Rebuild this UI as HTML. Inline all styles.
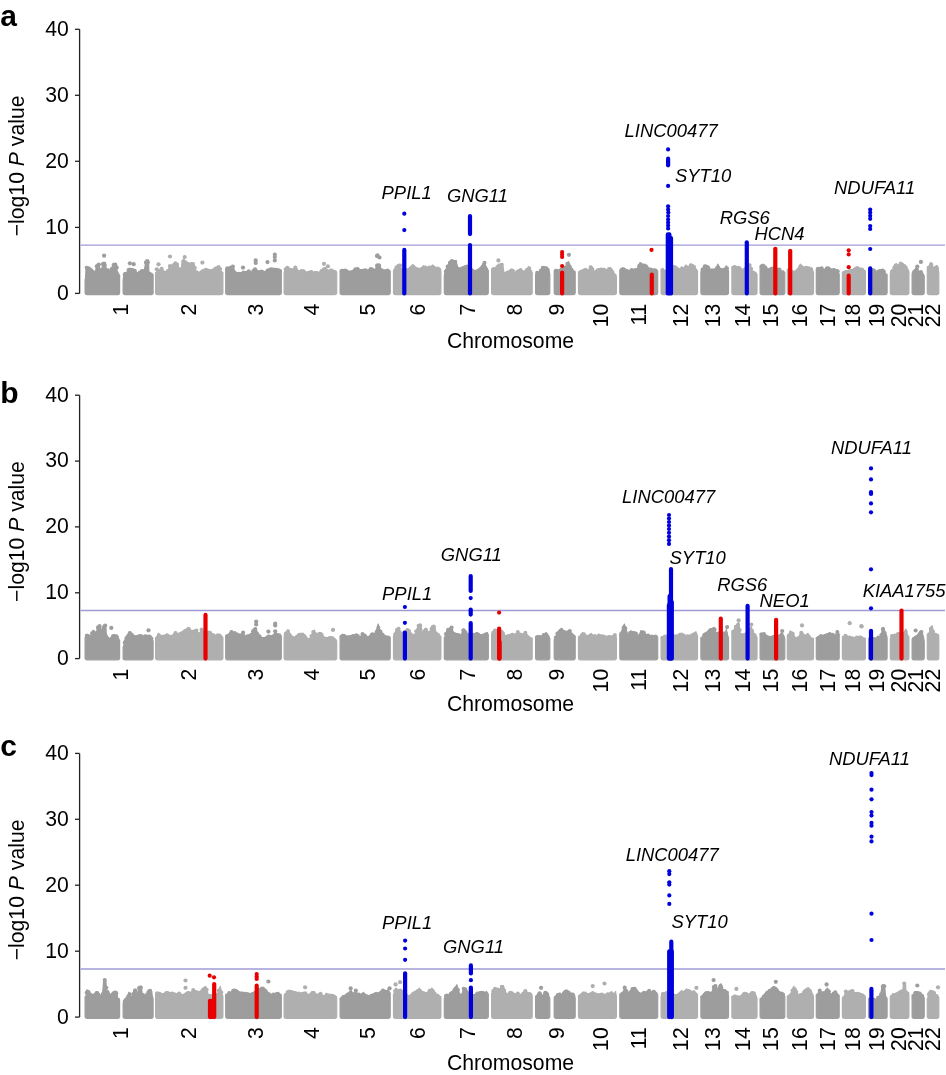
<!DOCTYPE html>
<html><head><meta charset="utf-8"><style>
html,body{margin:0;padding:0;background:#fff;}
svg{display:block;will-change:transform;font-family:"Liberation Sans",sans-serif;}
</style></head><body>
<svg width="946" height="1075" viewBox="0 0 946 1075">
<rect width="946" height="1075" fill="#fff"/>
<text x="0.3" y="25.5" font-size="30" font-weight="bold">a</text>
<path d="M79.6 29.3V293.4" stroke="#222" stroke-width="1.3" fill="none"/>
<path d="M75 293.4H79.6" stroke="#222" stroke-width="1.3"/>
<text x="68.8" y="299.8" font-size="21.2" text-anchor="end">0</text>
<path d="M75 227.4H79.6" stroke="#222" stroke-width="1.3"/>
<text x="68.8" y="233.8" font-size="21.2" text-anchor="end">10</text>
<path d="M75 161.3H79.6" stroke="#222" stroke-width="1.3"/>
<text x="68.8" y="167.8" font-size="21.2" text-anchor="end">20</text>
<path d="M75 95.3H79.6" stroke="#222" stroke-width="1.3"/>
<text x="68.8" y="101.7" font-size="21.2" text-anchor="end">30</text>
<path d="M75 29.3H79.6" stroke="#222" stroke-width="1.3"/>
<text x="68.8" y="35.7" font-size="21.2" text-anchor="end">40</text>
<text transform="translate(23.9 165.9) rotate(-90)" font-size="21.2" text-anchor="middle">−log10 <tspan font-style="italic">P</tspan> value</text>
<path d="M80.5 245.2H945" stroke="#9f9bd8" stroke-width="1.3"/>
<path d="M87.1 294.6Q85.1 294.6 85.1 292.6L85.1 279.3L85.5 279.3L86.1 266.7L89.3 267.1L92.7 271.7L95.2 272.6L96.1 268.3L96.9 264.1L99 264.1L99.9 269.2L102 268.3L102.8 262.4L105.4 262.4L106.2 268.8L108.3 270L109.2 272.6L111.3 269.2L113.4 263.3L116.4 263.3L117.2 270.9L118.9 274.3L119.6 275.1L119.6 275.1L119.6 292.6Q119.6 294.6 117.6 294.6Z" fill="#9d9d9d" stroke="#9d9d9d" stroke-width="1.2" stroke-linejoin="round"/>
<path d="M125.1 294.6Q123.1 294.6 123.1 292.6L123.1 280.2L123.1 280.2L124.4 272.6L127.4 272.6L128.6 268.3L130.7 268.3L132.4 269.2L135.8 269.6L136.7 273.4L139.2 271.7L141.7 270.5L144.3 270.9L146 259.9L148.5 259.9L148.9 271.7L151.5 273.4L152.9 275.1L153.1 275.1L153.1 292.6Q153.1 294.6 151.1 294.6Z" fill="#9d9d9d" stroke="#9d9d9d" stroke-width="1.2" stroke-linejoin="round"/>
<g fill="#9d9d9d"><circle cx="86.7" cy="267.7" r="2"/><circle cx="88.3" cy="268.7" r="2"/><circle cx="89.7" cy="269.1" r="2"/><circle cx="91.5" cy="270.4" r="2"/><circle cx="93.4" cy="272.3" r="2"/><circle cx="95.2" cy="272.9" r="2"/><circle cx="96.7" cy="266.3" r="2"/><circle cx="98.9" cy="264.6" r="2"/><circle cx="100.6" cy="270.6" r="2"/><circle cx="102.9" cy="264" r="2"/><circle cx="104.7" cy="265" r="2"/><circle cx="106.2" cy="270.6" r="2"/><circle cx="107.9" cy="270.3" r="2"/><circle cx="109.4" cy="273.2" r="2"/><circle cx="111.6" cy="269" r="2"/><circle cx="113.6" cy="265" r="2"/><circle cx="115.3" cy="264.8" r="2"/><circle cx="116.8" cy="267.6" r="2"/><circle cx="124.7" cy="274.4" r="2"/><circle cx="126.5" cy="273.5" r="2"/><circle cx="128.5" cy="270" r="2"/><circle cx="130.2" cy="270.4" r="2"/><circle cx="132.3" cy="269.9" r="2"/><circle cx="134.3" cy="270.9" r="2"/><circle cx="136.6" cy="274.9" r="2"/><circle cx="138.2" cy="274.9" r="2"/><circle cx="139.8" cy="272.6" r="2"/><circle cx="141.9" cy="271.1" r="2"/><circle cx="143.8" cy="271.1" r="2"/><circle cx="145.9" cy="262.4" r="2"/><circle cx="147.9" cy="262.2" r="2"/><circle cx="149.6" cy="274" r="2"/><circle cx="151.6" cy="275.1" r="2"/></g>
<path d="M157.6 294.6Q155.6 294.6 155.6 292.6L155.6 272.6L155.6 272.6L157.6 270.9L160.1 269.2L161.8 268.3L163.5 270.9L166.1 271.7L168.6 269.2L172 267.5L174.5 262.4L177.1 263.3L178.8 268.3L181.3 269.2L182.1 260.7L183.8 259L186.4 262.4L189.7 263.3L193.1 263.3L194.8 265.8L195.7 271.7L199 272.6L202.4 270L205.8 268.3L208.4 269.2L212.6 270.9L216 267.5L219.3 266.7L221 270.9L222.9 272.6L222.9 272.6L222.9 292.6Q222.9 294.6 220.9 294.6Z" fill="#afafaf" stroke="#afafaf" stroke-width="1.2" stroke-linejoin="round"/>
<g fill="#afafaf"><circle cx="157.2" cy="273.4" r="2"/><circle cx="159.5" cy="270.9" r="2"/><circle cx="161.6" cy="268.8" r="2"/><circle cx="163.7" cy="272.7" r="2"/><circle cx="166.1" cy="273.9" r="2"/><circle cx="167.8" cy="271.1" r="2"/><circle cx="169.9" cy="268.8" r="2"/><circle cx="171.7" cy="268.2" r="2"/><circle cx="173.2" cy="265.3" r="2"/><circle cx="175.4" cy="263.2" r="2"/><circle cx="177.1" cy="264.4" r="2"/><circle cx="179.3" cy="268.9" r="2"/><circle cx="181.2" cy="270.7" r="2"/><circle cx="183.5" cy="261.6" r="2"/><circle cx="185.7" cy="262.4" r="2"/><circle cx="187.5" cy="263.8" r="2"/><circle cx="189.8" cy="265.8" r="2"/><circle cx="191.4" cy="263.9" r="2"/><circle cx="193" cy="264" r="2"/><circle cx="194.9" cy="267.9" r="2"/><circle cx="196.5" cy="272.2" r="2"/><circle cx="198.4" cy="273.5" r="2"/><circle cx="200.3" cy="274.1" r="2"/><circle cx="202.4" cy="271.5" r="2"/><circle cx="204.4" cy="270.9" r="2"/><circle cx="205.9" cy="270.7" r="2"/><circle cx="208.1" cy="271.4" r="2"/><circle cx="210.3" cy="271.1" r="2"/><circle cx="212.1" cy="271.1" r="2"/><circle cx="214.1" cy="269.7" r="2"/><circle cx="215.6" cy="268.6" r="2"/><circle cx="217.1" cy="268.2" r="2"/><circle cx="218.6" cy="267" r="2"/><circle cx="220.1" cy="269.1" r="2"/></g>
<path d="M227.7 294.6Q225.7 294.6 225.7 292.6L225.7 269.2L225.8 269.2L227.8 267.5L231.2 266.7L232.9 265.5L234.6 270.9L237.9 273.4L242.2 272.6L246.4 271.7L248.9 270L251.5 272.6L254 269.2L255.7 268.3L258.2 271.7L261.6 270L265 271.7L268.4 269.2L271.8 268.8L275.2 268.3L278.5 268.8L281.1 270L281.3 270L281.3 292.6Q281.3 294.6 279.3 294.6Z" fill="#9d9d9d" stroke="#9d9d9d" stroke-width="1.2" stroke-linejoin="round"/>
<g fill="#9d9d9d"><circle cx="227.3" cy="268.2" r="2"/><circle cx="229.6" cy="268.7" r="2"/><circle cx="231.1" cy="267.5" r="2"/><circle cx="232.9" cy="266.5" r="2"/><circle cx="234.4" cy="272.6" r="2"/><circle cx="236.8" cy="273.9" r="2"/><circle cx="238.7" cy="273.7" r="2"/><circle cx="240.2" cy="274" r="2"/><circle cx="241.8" cy="274.8" r="2"/><circle cx="243.4" cy="272.6" r="2"/><circle cx="245.7" cy="273.3" r="2"/><circle cx="247.3" cy="272.6" r="2"/><circle cx="248.7" cy="271.6" r="2"/><circle cx="251.1" cy="274.5" r="2"/><circle cx="253.2" cy="271.1" r="2"/><circle cx="255" cy="269.3" r="2"/><circle cx="257.1" cy="271.7" r="2"/><circle cx="259.3" cy="272.2" r="2"/><circle cx="260.9" cy="272.5" r="2"/><circle cx="263.3" cy="273.1" r="2"/><circle cx="265.5" cy="273.5" r="2"/><circle cx="267.7" cy="270.5" r="2"/><circle cx="269.6" cy="270.1" r="2"/><circle cx="271" cy="269.2" r="2"/><circle cx="272.7" cy="269.5" r="2"/><circle cx="274.8" cy="270.9" r="2"/><circle cx="276.6" cy="271" r="2"/><circle cx="279" cy="271.6" r="2"/></g>
<path d="M286.1 294.6Q284.1 294.6 284.1 292.6L284.1 272.6L284.1 272.6L286.5 266.7L289.9 268.3L293.2 269.2L295.8 266.7L298.3 270.9L300 270.9L303.4 270L306.8 272.6L310.1 270.9L313.5 272.6L316.9 271.7L320.3 272.6L322.8 268.3L325.4 267.5L327.9 270.9L330.4 269.2L333.8 270.9L336.4 271.7L336.7 272.6L336.7 272.6L336.7 292.6Q336.7 294.6 334.7 294.6Z" fill="#afafaf" stroke="#afafaf" stroke-width="1.2" stroke-linejoin="round"/>
<g fill="#afafaf"><circle cx="285.7" cy="269.3" r="2"/><circle cx="287.3" cy="267.8" r="2"/><circle cx="288.9" cy="269.6" r="2"/><circle cx="291.2" cy="270.9" r="2"/><circle cx="293.1" cy="270.9" r="2"/><circle cx="295.3" cy="267.5" r="2"/><circle cx="297.4" cy="271.7" r="2"/><circle cx="299.6" cy="272.9" r="2"/><circle cx="301.4" cy="271.1" r="2"/><circle cx="303.6" cy="271.2" r="2"/><circle cx="305.8" cy="274.4" r="2"/><circle cx="307.6" cy="273.3" r="2"/><circle cx="310" cy="272.9" r="2"/><circle cx="311.5" cy="272.1" r="2"/><circle cx="313.1" cy="274.7" r="2"/><circle cx="315.3" cy="272.7" r="2"/><circle cx="317.5" cy="274.4" r="2"/><circle cx="319.6" cy="273.4" r="2"/><circle cx="321.5" cy="271" r="2"/><circle cx="322.9" cy="270.8" r="2"/><circle cx="325" cy="269.1" r="2"/><circle cx="327.3" cy="271.3" r="2"/><circle cx="329.6" cy="271.9" r="2"/><circle cx="331.2" cy="270.4" r="2"/><circle cx="332.9" cy="271.2" r="2"/><circle cx="334.9" cy="272.1" r="2"/></g>
<path d="M342.1 294.6Q340.1 294.6 340.1 292.6L340.1 270.9L340.1 270.9L342.3 270L345.7 269.2L349 271.7L352.4 270.9L355 269.2L357.5 268.3L360.9 270L364.3 269.2L367.7 270.9L370.2 267.5L372.7 268.3L375.3 270L377 264.1L379.5 264.1L381.2 269.2L384.6 270L387.9 269.2L390.2 270.9L390.2 270.9L390.2 292.6Q390.2 294.6 388.2 294.6Z" fill="#9d9d9d" stroke="#9d9d9d" stroke-width="1.2" stroke-linejoin="round"/>
<g fill="#9d9d9d"><circle cx="341.7" cy="270.8" r="2"/><circle cx="344" cy="270.7" r="2"/><circle cx="345.9" cy="270.9" r="2"/><circle cx="348.2" cy="272.3" r="2"/><circle cx="350.5" cy="272.8" r="2"/><circle cx="352.4" cy="272.3" r="2"/><circle cx="353.8" cy="271.2" r="2"/><circle cx="355.4" cy="269.2" r="2"/><circle cx="357.6" cy="269" r="2"/><circle cx="359.5" cy="271.3" r="2"/><circle cx="361.5" cy="270.9" r="2"/><circle cx="363.4" cy="270.9" r="2"/><circle cx="365.6" cy="270.3" r="2"/><circle cx="367.5" cy="271.6" r="2"/><circle cx="369.2" cy="270.9" r="2"/><circle cx="371.1" cy="269.3" r="2"/><circle cx="373.3" cy="271.1" r="2"/><circle cx="375.1" cy="271.6" r="2"/><circle cx="377" cy="265.5" r="2"/><circle cx="379.1" cy="265.4" r="2"/><circle cx="381" cy="270.1" r="2"/><circle cx="383.4" cy="271.6" r="2"/><circle cx="385.7" cy="272.2" r="2"/><circle cx="387.3" cy="270.9" r="2"/></g>
<path d="M395.5 294.6Q393.5 294.6 393.5 292.6L393.5 270.9L393.5 270.9L395.6 267.5L398.1 265.8L399.8 264.1L401.5 269.2L406.6 269.2L409.9 268.3L411.6 265.8L413.3 265L416.7 268.3L420.1 269.2L423.5 265.8L426.8 268.3L430.2 266.7L432.8 265L435.3 269.2L437.8 267.5L440.4 269.2L440.9 272.6L440.9 272.6L440.9 292.6Q440.9 294.6 438.9 294.6Z" fill="#afafaf" stroke="#afafaf" stroke-width="1.2" stroke-linejoin="round"/>
<g fill="#afafaf"><circle cx="395.1" cy="270.5" r="2"/><circle cx="396.6" cy="267.3" r="2"/><circle cx="398.5" cy="265.8" r="2"/><circle cx="400.1" cy="265.5" r="2"/><circle cx="402.2" cy="271.3" r="2"/><circle cx="404.5" cy="269.8" r="2"/><circle cx="406.6" cy="271" r="2"/><circle cx="408.1" cy="271.1" r="2"/><circle cx="410.5" cy="268.2" r="2"/><circle cx="412.9" cy="266.3" r="2"/><circle cx="414.8" cy="269" r="2"/><circle cx="417" cy="269" r="2"/><circle cx="418.8" cy="270.3" r="2"/><circle cx="420.6" cy="269.4" r="2"/><circle cx="422.3" cy="268.9" r="2"/><circle cx="423.7" cy="267.5" r="2"/><circle cx="425.5" cy="267.6" r="2"/><circle cx="427.3" cy="269.8" r="2"/><circle cx="429.2" cy="267.5" r="2"/><circle cx="431.6" cy="267.9" r="2"/><circle cx="433.9" cy="267.4" r="2"/><circle cx="435.6" cy="269.3" r="2"/><circle cx="437.8" cy="268.4" r="2"/><circle cx="439.3" cy="269.7" r="2"/></g>
<path d="M446.3 294.6Q444.3 294.6 444.3 292.6L444.3 276L444.3 276L445.1 270.9L447.6 265.8L450.1 260.7L452.7 260.4L456.1 261.6L457.8 267.5L460.3 269.2L463.7 266.7L467.1 265L473.8 271.7L476.4 270L478.9 269.2L481.4 267.5L483.1 263.3L484.3 261.6L485.7 265.8L487.4 269.2L488.3 270.9L488.3 270.9L488.3 292.6Q488.3 294.6 486.3 294.6Z" fill="#9d9d9d" stroke="#9d9d9d" stroke-width="1.2" stroke-linejoin="round"/>
<g fill="#9d9d9d"><circle cx="445.9" cy="271.4" r="2"/><circle cx="447.6" cy="266.5" r="2"/><circle cx="449.9" cy="262.8" r="2"/><circle cx="452" cy="260.9" r="2"/><circle cx="453.4" cy="262.5" r="2"/><circle cx="455.3" cy="261.7" r="2"/><circle cx="457.6" cy="268.7" r="2"/><circle cx="459.8" cy="269.3" r="2"/><circle cx="462.1" cy="268.2" r="2"/><circle cx="464.3" cy="267.6" r="2"/><circle cx="466.1" cy="267" r="2"/><circle cx="468.4" cy="267.1" r="2"/><circle cx="469.9" cy="269.3" r="2"/><circle cx="471.6" cy="269.9" r="2"/><circle cx="473.1" cy="271.3" r="2"/><circle cx="474.7" cy="272.1" r="2"/><circle cx="476.4" cy="272" r="2"/><circle cx="478.1" cy="270.9" r="2"/><circle cx="479.7" cy="269.7" r="2"/><circle cx="481.1" cy="268.5" r="2"/><circle cx="482.5" cy="266.7" r="2"/><circle cx="484.5" cy="262.7" r="2"/><circle cx="486.3" cy="269.6" r="2"/></g>
<path d="M493.6 294.6Q491.6 294.6 491.6 292.6L491.6 269.2L491.6 269.2L493.3 267.5L495.8 268.3L498.4 264.1L500.9 264.1L502.6 263.3L503.9 272.6L506 272.6L509.3 271.7L511.9 269.2L514.4 272.6L517.8 270.9L520.3 269.2L522.9 271.7L526.3 270L528.8 266.7L531.3 270.9L532.2 272.6L532.2 272.6L532.2 292.6Q532.2 294.6 530.2 294.6Z" fill="#afafaf" stroke="#afafaf" stroke-width="1.2" stroke-linejoin="round"/>
<g fill="#afafaf"><circle cx="493.2" cy="269.7" r="2"/><circle cx="495" cy="269.5" r="2"/><circle cx="497.3" cy="267.1" r="2"/><circle cx="499.2" cy="266" r="2"/><circle cx="501.6" cy="264.8" r="2"/><circle cx="503.8" cy="273.5" r="2"/><circle cx="505.8" cy="273.7" r="2"/><circle cx="507.6" cy="272.5" r="2"/><circle cx="509.1" cy="272.2" r="2"/><circle cx="511.2" cy="270.6" r="2"/><circle cx="512.8" cy="270.8" r="2"/><circle cx="515" cy="274.5" r="2"/><circle cx="517.1" cy="272.1" r="2"/><circle cx="518.8" cy="271.1" r="2"/><circle cx="520.6" cy="270" r="2"/><circle cx="522.5" cy="272.1" r="2"/><circle cx="524.8" cy="273.3" r="2"/><circle cx="526.8" cy="270.1" r="2"/><circle cx="529.1" cy="268.2" r="2"/></g>
<path d="M537.6 294.6Q535.6 294.6 535.6 292.6L535.6 274.3L535.6 274.3L537.3 272.6L539.8 271.7L542.3 267.5L544.9 267.5L547.4 268.3L549.1 270.9L549.8 274.3L549.8 274.3L549.8 292.6Q549.8 294.6 547.8 294.6Z" fill="#9d9d9d" stroke="#9d9d9d" stroke-width="1.2" stroke-linejoin="round"/>
<path d="M556.2 294.6Q554.2 294.6 554.2 292.6L554.2 270.9L554.2 270.9L555.9 269.2L558.4 270L566 265.8L568.5 261.6L570.2 265.8L572.8 270L575.2 271.7L575.2 271.7L575.2 292.6Q575.2 294.6 573.2 294.6Z" fill="#9d9d9d" stroke="#9d9d9d" stroke-width="1.2" stroke-linejoin="round"/>
<g fill="#9d9d9d"><circle cx="537.2" cy="272.8" r="2"/><circle cx="539" cy="273.3" r="2"/><circle cx="540.9" cy="270.6" r="2"/><circle cx="542.8" cy="267.7" r="2"/><circle cx="544.5" cy="267.9" r="2"/><circle cx="546.3" cy="268.3" r="2"/><circle cx="547.7" cy="269.7" r="2"/><circle cx="555.8" cy="270.9" r="2"/><circle cx="557.7" cy="271.8" r="2"/><circle cx="559.8" cy="271.2" r="2"/><circle cx="562.1" cy="269.1" r="2"/><circle cx="563.8" cy="269.6" r="2"/><circle cx="565.3" cy="268.1" r="2"/><circle cx="567.4" cy="263.8" r="2"/><circle cx="569.6" cy="266.6" r="2"/><circle cx="571.6" cy="270.1" r="2"/></g>
<path d="M580.5 294.6Q578.5 294.6 578.5 292.6L578.5 272.6L578.5 272.6L580 271.7L583.4 269.2L585.9 268.3L588.5 270.9L590.1 265.8L591.8 267.5L594.4 272.6L596.9 269.2L600.3 268.3L603.7 268.3L607.1 270L610.4 267.5L613 270.9L615.5 276L616.4 276.8L616.4 276.8L616.4 292.6Q616.4 294.6 614.4 294.6Z" fill="#afafaf" stroke="#afafaf" stroke-width="1.2" stroke-linejoin="round"/>
<g fill="#afafaf"><circle cx="580.1" cy="272.2" r="2"/><circle cx="582" cy="271.6" r="2"/><circle cx="584.3" cy="271" r="2"/><circle cx="586.5" cy="270.5" r="2"/><circle cx="588.8" cy="271.8" r="2"/><circle cx="590.9" cy="267.3" r="2"/><circle cx="592.3" cy="268.9" r="2"/><circle cx="594.1" cy="272.4" r="2"/><circle cx="596.3" cy="271.5" r="2"/><circle cx="598.3" cy="270.5" r="2"/><circle cx="600.4" cy="269.7" r="2"/><circle cx="601.8" cy="270.5" r="2"/><circle cx="604" cy="269.9" r="2"/><circle cx="605.9" cy="271.2" r="2"/><circle cx="607.4" cy="271.8" r="2"/><circle cx="609" cy="268.9" r="2"/><circle cx="610.7" cy="269.8" r="2"/><circle cx="612.3" cy="271.9" r="2"/><circle cx="614.7" cy="275.6" r="2"/></g>
<path d="M621.8 294.6Q619.8 294.6 619.8 292.6L619.8 270.9L619.8 270.9L622.3 267.5L624.8 268.3L627.4 270.9L630.7 270L634.1 269.2L637.5 268.3L640 262.4L642.6 264.1L645.1 265.8L646.8 265L649.3 269.2L651 268.3L653.6 270L656.1 269.2L657.7 270.9L657.7 270.9L657.7 292.6Q657.7 294.6 655.7 294.6Z" fill="#9d9d9d" stroke="#9d9d9d" stroke-width="1.2" stroke-linejoin="round"/>
<g fill="#9d9d9d"><circle cx="621.4" cy="270" r="2"/><circle cx="623.5" cy="269.9" r="2"/><circle cx="625.5" cy="270.8" r="2"/><circle cx="627" cy="271.1" r="2"/><circle cx="628.6" cy="272.5" r="2"/><circle cx="630.3" cy="271.7" r="2"/><circle cx="631.7" cy="270.1" r="2"/><circle cx="633.4" cy="271.2" r="2"/><circle cx="635.5" cy="270.7" r="2"/><circle cx="637.2" cy="269.9" r="2"/><circle cx="639.1" cy="266" r="2"/><circle cx="640.6" cy="265.1" r="2"/><circle cx="642.2" cy="266.4" r="2"/><circle cx="644.5" cy="265.6" r="2"/><circle cx="646.4" cy="267.3" r="2"/><circle cx="648.7" cy="269.5" r="2"/><circle cx="650.4" cy="269.4" r="2"/><circle cx="652.8" cy="270.2" r="2"/><circle cx="654.7" cy="270.2" r="2"/></g>
<path d="M663.1 294.6Q661.1 294.6 661.1 292.6L661.1 269.2L661.1 269.2L662.9 268.3L664.6 270.9L673.9 265.8L676.4 267.5L679.8 270L681.5 266.7L684 268.3L685.7 265L688.2 267.5L690.8 264.1L692.5 265L695 267.5L697.5 270.9L697.5 270.9L697.5 292.6Q697.5 294.6 695.5 294.6Z" fill="#afafaf" stroke="#afafaf" stroke-width="1.2" stroke-linejoin="round"/>
<g fill="#afafaf"><circle cx="662.7" cy="270.9" r="2"/><circle cx="664.2" cy="272.5" r="2"/><circle cx="666.1" cy="272.3" r="2"/><circle cx="668.2" cy="269.6" r="2"/><circle cx="670.5" cy="269" r="2"/><circle cx="672" cy="267.1" r="2"/><circle cx="673.9" cy="267.1" r="2"/><circle cx="675.6" cy="267.5" r="2"/><circle cx="677.3" cy="269.1" r="2"/><circle cx="679.5" cy="270.1" r="2"/><circle cx="681.7" cy="269" r="2"/><circle cx="683.2" cy="270.2" r="2"/><circle cx="685.3" cy="268.1" r="2"/><circle cx="687" cy="267.4" r="2"/><circle cx="688.8" cy="269.3" r="2"/><circle cx="690.8" cy="265.2" r="2"/><circle cx="692.6" cy="266" r="2"/><circle cx="694.1" cy="267" r="2"/></g>
<path d="M702.9 294.6Q700.9 294.6 700.9 292.6L700.9 271.7L700.9 271.7L702.6 268.3L705.2 265L707.7 265.8L710.2 269.2L713.6 269.2L716.2 268.3L717.8 264.1L719.5 268.3L722.1 269.2L724.6 269.2L726.3 265.8L728.5 270.9L728.5 270.9L728.5 292.6Q728.5 294.6 726.5 294.6Z" fill="#9d9d9d" stroke="#9d9d9d" stroke-width="1.2" stroke-linejoin="round"/>
<g fill="#9d9d9d"><circle cx="702.5" cy="269.5" r="2"/><circle cx="704.8" cy="266.2" r="2"/><circle cx="706.5" cy="266.8" r="2"/><circle cx="708.1" cy="267.4" r="2"/><circle cx="710.4" cy="271.5" r="2"/><circle cx="712.7" cy="270.9" r="2"/><circle cx="715" cy="271.2" r="2"/><circle cx="716.9" cy="268.3" r="2"/><circle cx="718.4" cy="267.4" r="2"/><circle cx="720.2" cy="270.6" r="2"/><circle cx="722.3" cy="270.1" r="2"/><circle cx="723.7" cy="271.6" r="2"/><circle cx="725.2" cy="269.3" r="2"/><circle cx="727" cy="268.3" r="2"/></g>
<path d="M733.9 294.6Q731.9 294.6 731.9 292.6L731.9 266.7L731.9 266.7L734.4 265.5L736.9 266.7L739.5 267.5L742 270L749.6 264.1L752.1 270.9L754.7 271.7L757 274.3L757 274.3L757 292.6Q757 294.6 755 294.6Z" fill="#afafaf" stroke="#afafaf" stroke-width="1.2" stroke-linejoin="round"/>
<g fill="#afafaf"><circle cx="733.5" cy="268.4" r="2"/><circle cx="735.2" cy="267.6" r="2"/><circle cx="736.9" cy="268.2" r="2"/><circle cx="738.7" cy="267.8" r="2"/><circle cx="740.2" cy="269" r="2"/><circle cx="742.5" cy="271" r="2"/><circle cx="744.1" cy="270.7" r="2"/><circle cx="746.5" cy="267.8" r="2"/><circle cx="748.1" cy="266" r="2"/><circle cx="749.6" cy="265.2" r="2"/><circle cx="751.1" cy="268.8" r="2"/><circle cx="752.7" cy="272.6" r="2"/><circle cx="755" cy="274.1" r="2"/></g>
<path d="M762.1 294.6Q760.1 294.6 760.1 292.6L760.1 265.8L760.6 265.8L763.1 264.1L765.7 267.5L768.2 269.2L770.7 267.5L778.4 268.3L780.9 270.9L783.4 270.9L784.8 272.6L784.8 272.6L784.8 292.6Q784.8 294.6 782.8 294.6Z" fill="#9d9d9d" stroke="#9d9d9d" stroke-width="1.2" stroke-linejoin="round"/>
<g fill="#9d9d9d"><circle cx="761.7" cy="266.3" r="2"/><circle cx="763.6" cy="265.9" r="2"/><circle cx="765.4" cy="267.4" r="2"/><circle cx="767" cy="270.9" r="2"/><circle cx="768.6" cy="270.4" r="2"/><circle cx="770.6" cy="269.9" r="2"/><circle cx="772.2" cy="268.5" r="2"/><circle cx="773.9" cy="269" r="2"/><circle cx="775.7" cy="270.5" r="2"/><circle cx="778" cy="270.6" r="2"/><circle cx="779.4" cy="269.6" r="2"/><circle cx="781.5" cy="273.2" r="2"/></g>
<path d="M789.3 294.6Q787.3 294.6 787.3 292.6L787.3 269.2L787.3 269.2L792.7 270.9L796.1 271.7L798.6 267.5L800.3 264.1L802.9 266.7L805.4 267.5L807.9 267.5L810.5 267.5L812.2 268.3L813.5 272.6L813.5 272.6L813.5 292.6Q813.5 294.6 811.5 294.6Z" fill="#afafaf" stroke="#afafaf" stroke-width="1.2" stroke-linejoin="round"/>
<g fill="#afafaf"><circle cx="788.9" cy="271.3" r="2"/><circle cx="790.3" cy="271.3" r="2"/><circle cx="792.6" cy="273" r="2"/><circle cx="794.9" cy="274" r="2"/><circle cx="796.5" cy="271.5" r="2"/><circle cx="798.1" cy="269.9" r="2"/><circle cx="800.2" cy="266.9" r="2"/><circle cx="802.3" cy="267.8" r="2"/><circle cx="804.5" cy="268.5" r="2"/><circle cx="806.4" cy="267.8" r="2"/><circle cx="808.6" cy="268.3" r="2"/><circle cx="810.9" cy="269.5" r="2"/></g>
<path d="M818.3 294.6Q816.3 294.6 816.3 292.6L816.3 269.2L816.4 269.2L818.9 267.5L821.5 267.5L824 270.9L826.6 267.2L829.1 267.5L831.6 269.2L835 269.2L837.5 270L839.2 274.3L839.2 274.3L839.2 292.6Q839.2 294.6 837.2 294.6Z" fill="#9d9d9d" stroke="#9d9d9d" stroke-width="1.2" stroke-linejoin="round"/>
<g fill="#9d9d9d"><circle cx="817.9" cy="268.7" r="2"/><circle cx="819.6" cy="269.2" r="2"/><circle cx="821.7" cy="268.2" r="2"/><circle cx="823.1" cy="271.1" r="2"/><circle cx="825.1" cy="270.4" r="2"/><circle cx="826.7" cy="268.8" r="2"/><circle cx="828.1" cy="268.3" r="2"/><circle cx="830" cy="270.6" r="2"/><circle cx="832" cy="271.5" r="2"/><circle cx="833.9" cy="270" r="2"/><circle cx="835.6" cy="271.9" r="2"/><circle cx="837.7" cy="271.3" r="2"/></g>
<path d="M844.4 294.6Q842.4 294.6 842.4 292.6L842.4 272.6L842.6 272.6L845.2 270.9L851.9 270L855.3 267.5L857.8 266.7L860.4 268.3L862.9 269.2L865.4 270.9L865.4 270.9L865.4 292.6Q865.4 294.6 863.4 294.6Z" fill="#afafaf" stroke="#afafaf" stroke-width="1.2" stroke-linejoin="round"/>
<g fill="#afafaf"><circle cx="844" cy="273" r="2"/><circle cx="846.1" cy="272" r="2"/><circle cx="847.7" cy="272.4" r="2"/><circle cx="850.1" cy="271" r="2"/><circle cx="851.5" cy="271.1" r="2"/><circle cx="853.3" cy="270.8" r="2"/><circle cx="854.9" cy="269.9" r="2"/><circle cx="857" cy="268.3" r="2"/><circle cx="858.7" cy="269.7" r="2"/><circle cx="860.4" cy="270.5" r="2"/><circle cx="862" cy="269.6" r="2"/></g>
<path d="M870.5 294.6Q868.5 294.6 868.5 292.6L868.5 269.9L868.5 269.9L872.7 269L874.5 269.9L876.4 271.7L878.2 270.8L880 270.4L881.8 269.5L883.6 270.8L885.5 273.6L887.1 274.5L887.1 274.5L887.1 292.6Q887.1 294.6 885.1 294.6Z" fill="#9d9d9d" stroke="#9d9d9d" stroke-width="1.2" stroke-linejoin="round"/>
<g fill="#9d9d9d"><circle cx="870.1" cy="270.5" r="2"/><circle cx="872.5" cy="270.5" r="2"/><circle cx="874" cy="270.4" r="2"/><circle cx="875.9" cy="273" r="2"/><circle cx="878.2" cy="271.4" r="2"/><circle cx="880" cy="271.1" r="2"/><circle cx="882.4" cy="270.4" r="2"/><circle cx="883.8" cy="271.5" r="2"/></g>
<path d="M892.3 294.6Q890.3 294.6 890.3 292.6L890.3 273.6L890.3 273.6L891.4 269.9L893.2 269.5L894.5 264.5L896.4 263.6L898.2 266.3L900 262.2L901.8 262.7L903.6 264.5L905.5 266.3L907.3 269.9L908.9 271.7L908.9 271.7L908.9 292.6Q908.9 294.6 906.9 294.6Z" fill="#afafaf" stroke="#afafaf" stroke-width="1.2" stroke-linejoin="round"/>
<g fill="#afafaf"><circle cx="891.9" cy="272.1" r="2"/><circle cx="894.2" cy="267.8" r="2"/><circle cx="896.6" cy="266.3" r="2"/><circle cx="898.3" cy="266.6" r="2"/><circle cx="900.6" cy="264.4" r="2"/><circle cx="902.1" cy="264.7" r="2"/><circle cx="903.9" cy="265.8" r="2"/><circle cx="905.6" cy="267.2" r="2"/><circle cx="907" cy="270.2" r="2"/></g>
<path d="M914.1 294.6Q912.1 294.6 912.1 292.6L912.1 274.5L912.1 274.5L913.2 270.8L914.5 269.9L916.4 267.7L918.2 270.8L920 271.7L921.8 271.7L923.6 274.5L924.2 276.3L924.2 276.3L924.2 292.6Q924.2 294.6 922.2 294.6Z" fill="#9d9d9d" stroke="#9d9d9d" stroke-width="1.2" stroke-linejoin="round"/>
<g fill="#9d9d9d"><circle cx="913.7" cy="273" r="2"/><circle cx="915.2" cy="271.6" r="2"/><circle cx="916.8" cy="269.5" r="2"/><circle cx="919.1" cy="273.4" r="2"/><circle cx="920.9" cy="272.1" r="2"/></g>
<path d="M929.3 294.6Q927.3 294.6 927.3 292.6L927.3 267.2L927.3 267.2L929.1 266.3L930.5 262.7L931.8 264.5L933.6 268.1L935.5 266.3L936.8 265.4L938.2 268.1L938.8 273.6L938.8 273.6L938.8 292.6Q938.8 294.6 936.8 294.6Z" fill="#afafaf" stroke="#afafaf" stroke-width="1.2" stroke-linejoin="round"/>
<g fill="#afafaf"><circle cx="928.9" cy="267.5" r="2"/><circle cx="931.2" cy="264.3" r="2"/><circle cx="933" cy="269.2" r="2"/><circle cx="934.4" cy="268.5" r="2"/><circle cx="936.6" cy="267.6" r="2"/></g>
<circle cx="104.1" cy="255.7" r="2.1" fill="#9d9d9d"/>
<circle cx="129.9" cy="263.3" r="2.1" fill="#9d9d9d"/>
<circle cx="133.7" cy="264.2" r="2.1" fill="#9d9d9d"/>
<circle cx="170" cy="256.5" r="2.1" fill="#afafaf"/>
<circle cx="158.5" cy="264.3" r="2.1" fill="#afafaf"/>
<circle cx="156.8" cy="269.3" r="2.1" fill="#afafaf"/>
<circle cx="170" cy="266" r="2.1" fill="#afafaf"/>
<circle cx="202.4" cy="262.6" r="2.1" fill="#afafaf"/>
<circle cx="184.7" cy="257" r="2.1" fill="#afafaf"/>
<circle cx="243" cy="267.6" r="2.1" fill="#9d9d9d"/>
<circle cx="255.7" cy="260.4" r="2.1" fill="#9d9d9d"/>
<circle cx="255.7" cy="262.9" r="2.1" fill="#9d9d9d"/>
<circle cx="267.5" cy="262.1" r="2.1" fill="#9d9d9d"/>
<circle cx="274.8" cy="254.5" r="2.1" fill="#9d9d9d"/>
<circle cx="274.8" cy="257" r="2.1" fill="#9d9d9d"/>
<circle cx="274.8" cy="260.4" r="2.1" fill="#9d9d9d"/>
<circle cx="324" cy="263.8" r="2.1" fill="#afafaf"/>
<circle cx="327.9" cy="266.3" r="2.1" fill="#afafaf"/>
<circle cx="377" cy="256.1" r="2.1" fill="#9d9d9d"/>
<circle cx="379.5" cy="257.5" r="2.1" fill="#9d9d9d"/>
<circle cx="377.5" cy="255.3" r="2.1" fill="#9d9d9d"/>
<circle cx="498.4" cy="260.4" r="2.1" fill="#afafaf"/>
<circle cx="568.9" cy="254.8" r="2.1" fill="#9d9d9d"/>
<circle cx="920.9" cy="261.9" r="2.1" fill="#9d9d9d"/>
<circle cx="917.3" cy="266.5" r="2.1" fill="#9d9d9d"/>
<circle cx="404.3" cy="213.7" r="2.1" fill="#0000dc"/>
<circle cx="404.3" cy="230.1" r="2.1" fill="#0000dc"/>
<circle cx="562.1" cy="252" r="2.1" fill="#e80000"/>
<circle cx="562.1" cy="254.5" r="2.1" fill="#e80000"/>
<circle cx="562.1" cy="257" r="2.1" fill="#e80000"/>
<circle cx="562.1" cy="266" r="2.1" fill="#e80000"/>
<circle cx="651.5" cy="249.9" r="2.1" fill="#e80000"/>
<circle cx="668.1" cy="149.4" r="2.1" fill="#0000dc"/>
<circle cx="668.1" cy="185.9" r="2.1" fill="#0000dc"/>
<circle cx="668.1" cy="206.3" r="2.1" fill="#0000dc"/>
<circle cx="668.1" cy="209.5" r="2.1" fill="#0000dc"/>
<circle cx="668.3" cy="212.5" r="2.1" fill="#0000dc"/>
<circle cx="668.1" cy="216" r="2.1" fill="#0000dc"/>
<circle cx="668.1" cy="219.5" r="2.1" fill="#0000dc"/>
<circle cx="668.1" cy="222.5" r="2.1" fill="#0000dc"/>
<circle cx="668.1" cy="225.5" r="2.1" fill="#0000dc"/>
<circle cx="668.1" cy="228.5" r="2.1" fill="#0000dc"/>
<circle cx="870.2" cy="209.6" r="2.1" fill="#0000dc"/>
<circle cx="870.2" cy="212.5" r="2.1" fill="#0000dc"/>
<circle cx="870.2" cy="215.8" r="2.1" fill="#0000dc"/>
<circle cx="870.2" cy="218.8" r="2.1" fill="#0000dc"/>
<circle cx="870.2" cy="226" r="2.1" fill="#0000dc"/>
<circle cx="870.2" cy="229" r="2.1" fill="#0000dc"/>
<circle cx="848.7" cy="250.3" r="2.1" fill="#e80000"/>
<circle cx="848.7" cy="254.4" r="2.1" fill="#e80000"/>
<circle cx="870.2" cy="249" r="2.1" fill="#0000dc"/>
<path d="M404.3 249.9V293.4" stroke="#0000dc" stroke-width="4.2" stroke-linecap="round"/>
<path d="M470 216.1V234.1" stroke="#0000dc" stroke-width="4.2" stroke-linecap="round"/>
<path d="M470 245.1V293.4" stroke="#0000dc" stroke-width="4.2" stroke-linecap="round"/>
<path d="M562.1 272.6V293.4" stroke="#e80000" stroke-width="4.2" stroke-linecap="round"/>
<path d="M651.8 274.5V293.4" stroke="#e80000" stroke-width="4.2" stroke-linecap="round"/>
<path d="M667.8 234.4V293.4" stroke="#0000dc" stroke-width="4.2" stroke-linecap="round"/>
<path d="M671 238.1V293.4" stroke="#0000dc" stroke-width="4.2" stroke-linecap="round"/>
<path d="M669.4 234.4V293.4" stroke="#0000dc" stroke-width="4.2" stroke-linecap="round"/>
<path d="M668.1 158.7V165.3" stroke="#0000dc" stroke-width="4.2" stroke-linecap="round"/>
<path d="M746.8 242.3V293.4" stroke="#0000dc" stroke-width="4.2" stroke-linecap="round"/>
<path d="M775.3 248.8V293.4" stroke="#e80000" stroke-width="4.2" stroke-linecap="round"/>
<path d="M790.2 250.8V293.4" stroke="#e80000" stroke-width="4.2" stroke-linecap="round"/>
<path d="M848.7 275.7V293.4" stroke="#e80000" stroke-width="4.2" stroke-linecap="round"/>
<path d="M848.7 267.2V267.2" stroke="#e80000" stroke-width="4.2" stroke-linecap="round"/>
<path d="M870.2 268.3V293.4" stroke="#0000dc" stroke-width="4.2" stroke-linecap="round"/>
<text transform="translate(128 303.6) rotate(-90)" font-size="21.2" text-anchor="end">1</text>
<text transform="translate(196 303.6) rotate(-90)" font-size="21.2" text-anchor="end">2</text>
<text transform="translate(263.1 303.6) rotate(-90)" font-size="21.2" text-anchor="end">3</text>
<text transform="translate(319.4 303.6) rotate(-90)" font-size="21.2" text-anchor="end">4</text>
<text transform="translate(374.5 303.6) rotate(-90)" font-size="21.2" text-anchor="end">5</text>
<text transform="translate(425.4 303.6) rotate(-90)" font-size="21.2" text-anchor="end">6</text>
<text transform="translate(474.6 303.6) rotate(-90)" font-size="21.2" text-anchor="end">7</text>
<text transform="translate(521.5 303.6) rotate(-90)" font-size="21.2" text-anchor="end">8</text>
<text transform="translate(564.2 303.6) rotate(-90)" font-size="21.2" text-anchor="end">9</text>
<text transform="translate(607.8 303.6) rotate(-90)" font-size="21.2" text-anchor="end">10</text>
<text transform="translate(646 303.6) rotate(-90)" font-size="21.2" text-anchor="end">11</text>
<text transform="translate(687.9 303.6) rotate(-90)" font-size="21.2" text-anchor="end">12</text>
<text transform="translate(719.5 303.6) rotate(-90)" font-size="21.2" text-anchor="end">13</text>
<text transform="translate(749.8 303.6) rotate(-90)" font-size="21.2" text-anchor="end">14</text>
<text transform="translate(778.3 303.6) rotate(-90)" font-size="21.2" text-anchor="end">15</text>
<text transform="translate(807.3 303.6) rotate(-90)" font-size="21.2" text-anchor="end">16</text>
<text transform="translate(834.9 303.6) rotate(-90)" font-size="21.2" text-anchor="end">17</text>
<text transform="translate(859.5 303.6) rotate(-90)" font-size="21.2" text-anchor="end">18</text>
<text transform="translate(883.5 303.6) rotate(-90)" font-size="21.2" text-anchor="end">19</text>
<text transform="translate(906 303.6) rotate(-90)" font-size="21.2" text-anchor="end">20</text>
<text transform="translate(923 303.6) rotate(-90)" font-size="21.2" text-anchor="end">21</text>
<text transform="translate(940.2 303.6) rotate(-90)" font-size="21.2" text-anchor="end">22</text>
<text x="510.5" y="347.5" font-size="21.2" text-anchor="middle">Chromosome</text>
<text x="381.6" y="198.8" font-size="18.4" font-style="italic">PPIL1</text>
<text x="446.9" y="202.1" font-size="18.4" font-style="italic">GNG11</text>
<text x="624.6" y="136.7" font-size="18.4" font-style="italic">LINC00477</text>
<text x="675" y="181.5" font-size="18.4" font-style="italic">SYT10</text>
<text x="719.7" y="223.7" font-size="18.4" font-style="italic">RGS6</text>
<text x="754.5" y="240.1" font-size="18.4" font-style="italic">HCN4</text>
<text x="834.1" y="193.8" font-size="18.4" font-style="italic">NDUFA11</text>
<text x="0.3" y="402.8" font-size="30" font-weight="bold">b</text>
<path d="M79.6 395.2V658.6" stroke="#222" stroke-width="1.3" fill="none"/>
<path d="M75 658.6H79.6" stroke="#222" stroke-width="1.3"/>
<text x="68.8" y="665" font-size="21.2" text-anchor="end">0</text>
<path d="M75 592.8H79.6" stroke="#222" stroke-width="1.3"/>
<text x="68.8" y="599.1" font-size="21.2" text-anchor="end">10</text>
<path d="M75 526.9H79.6" stroke="#222" stroke-width="1.3"/>
<text x="68.8" y="533.3" font-size="21.2" text-anchor="end">20</text>
<path d="M75 461.1H79.6" stroke="#222" stroke-width="1.3"/>
<text x="68.8" y="467.4" font-size="21.2" text-anchor="end">30</text>
<path d="M75 395.2H79.6" stroke="#222" stroke-width="1.3"/>
<text x="68.8" y="401.6" font-size="21.2" text-anchor="end">40</text>
<text transform="translate(23.9 531.5) rotate(-90)" font-size="21.2" text-anchor="middle">−log10 <tspan font-style="italic">P</tspan> value</text>
<path d="M80.5 610.5H945" stroke="#9f9bd8" stroke-width="1.3"/>
<path d="M87.1 659.8Q85.1 659.8 85.1 657.8L85.1 637.6L85.9 637.6L87.2 634.2L89.3 635L91 635.9L92.7 630.4L94.4 630.8L95.6 633.3L96.9 630.4L98.2 625.7L100.3 625.7L102 632.5L103.7 624.9L105.8 624.9L106.2 633.3L107.9 637.6L110.4 639.3L112.1 635L113.8 634.6L117.2 635L118.9 639.3L119.6 640.1L119.6 640.1L119.6 657.8Q119.6 659.8 117.6 659.8Z" fill="#9d9d9d" stroke="#9d9d9d" stroke-width="1.2" stroke-linejoin="round"/>
<path d="M125.1 659.8Q123.1 659.8 123.1 657.8L123.1 646.9L123.6 646.9L124.8 640.1L127.4 635L129 632.5L130.7 632.1L132.4 635L134.1 637.1L135.8 635.9L139.2 635L141.7 635.9L144.3 636.3L146 635L147.7 635.5L149.3 635L151 635.9L152.7 640.1L153.1 641L153.1 641L153.1 657.8Q153.1 659.8 151.1 659.8Z" fill="#9d9d9d" stroke="#9d9d9d" stroke-width="1.2" stroke-linejoin="round"/>
<g fill="#9d9d9d"><circle cx="86.7" cy="635.8" r="2"/><circle cx="88.2" cy="637" r="2"/><circle cx="89.8" cy="637.3" r="2"/><circle cx="92.1" cy="633.2" r="2"/><circle cx="93.8" cy="633.2" r="2"/><circle cx="95.8" cy="633.8" r="2"/><circle cx="97.9" cy="627.6" r="2"/><circle cx="99.6" cy="625.9" r="2"/><circle cx="101.8" cy="634" r="2"/><circle cx="103.8" cy="627.3" r="2"/><circle cx="105.2" cy="625.6" r="2"/><circle cx="107.1" cy="638" r="2"/><circle cx="109.4" cy="639.7" r="2"/><circle cx="111.1" cy="638.9" r="2"/><circle cx="113" cy="637.2" r="2"/><circle cx="114.6" cy="636.8" r="2"/><circle cx="116.7" cy="637.1" r="2"/><circle cx="124.7" cy="642.4" r="2"/><circle cx="126.4" cy="637.9" r="2"/><circle cx="128.2" cy="635.9" r="2"/><circle cx="129.7" cy="633" r="2"/><circle cx="131.8" cy="634.8" r="2"/><circle cx="133.3" cy="636.4" r="2"/><circle cx="135.2" cy="637.3" r="2"/><circle cx="137.6" cy="637.7" r="2"/><circle cx="140" cy="636.1" r="2"/><circle cx="141.5" cy="636.2" r="2"/><circle cx="143.4" cy="638.1" r="2"/><circle cx="145.2" cy="636.3" r="2"/><circle cx="147.1" cy="637" r="2"/><circle cx="149.1" cy="637.1" r="2"/><circle cx="151.4" cy="638.5" r="2"/></g>
<path d="M157.6 659.8Q155.6 659.8 155.6 657.8L155.6 637.6L156.4 637.6L158.5 633.3L161 635.9L164.4 635.9L166.9 633.8L169.5 635.9L172.8 635L175.4 631.7L177.9 634.2L181.3 633.3L183.8 630L186.4 629.1L188.1 627.4L190.6 630L194 630.8L196.5 630L199 635L201.6 629.1L204.1 632.5L207.5 632.5L210 631.7L212.6 634.2L215.1 635.9L217.7 634.2L221 635L222.9 637.6L222.9 637.6L222.9 657.8Q222.9 659.8 220.9 659.8Z" fill="#afafaf" stroke="#afafaf" stroke-width="1.2" stroke-linejoin="round"/>
<g fill="#afafaf"><circle cx="157.2" cy="638.2" r="2"/><circle cx="158.9" cy="635.3" r="2"/><circle cx="160.7" cy="637.5" r="2"/><circle cx="162.3" cy="636.7" r="2"/><circle cx="163.9" cy="636.4" r="2"/><circle cx="166.2" cy="636" r="2"/><circle cx="167.9" cy="635.8" r="2"/><circle cx="170.3" cy="637.1" r="2"/><circle cx="171.9" cy="637.4" r="2"/><circle cx="174" cy="636.1" r="2"/><circle cx="175.5" cy="633.1" r="2"/><circle cx="177.7" cy="636.2" r="2"/><circle cx="180" cy="634" r="2"/><circle cx="181.7" cy="633.2" r="2"/><circle cx="183.3" cy="633.2" r="2"/><circle cx="185.3" cy="631.9" r="2"/><circle cx="187.1" cy="630.7" r="2"/><circle cx="188.9" cy="629.1" r="2"/><circle cx="191.1" cy="632.6" r="2"/><circle cx="192.6" cy="632.1" r="2"/><circle cx="194.6" cy="631.3" r="2"/><circle cx="196.4" cy="630.5" r="2"/><circle cx="198" cy="633.7" r="2"/><circle cx="200" cy="634.6" r="2"/><circle cx="201.6" cy="629.4" r="2"/><circle cx="203.3" cy="633.3" r="2"/><circle cx="204.9" cy="633.4" r="2"/><circle cx="206.5" cy="634.6" r="2"/><circle cx="208.5" cy="632.5" r="2"/><circle cx="210" cy="632.8" r="2"/><circle cx="211.9" cy="635.3" r="2"/><circle cx="213.4" cy="635.3" r="2"/><circle cx="215.5" cy="636.8" r="2"/><circle cx="217.2" cy="635.4" r="2"/><circle cx="219.5" cy="635.6" r="2"/></g>
<path d="M227.7 659.8Q225.7 659.8 225.7 657.8L225.7 635.9L226.1 635.9L228.6 634.2L231.2 630.8L233.7 632.5L237.1 633.3L240.5 635L243 632.2L245.6 636.7L248.9 635L251.5 634.2L253.2 629.1L255.7 628.3L258.2 634.2L261.6 637.6L265 637.6L268.4 635L271.8 635.9L275.2 633.3L278.5 634.2L281.1 635.9L281.3 635.9L281.3 657.8Q281.3 659.8 279.3 659.8Z" fill="#9d9d9d" stroke="#9d9d9d" stroke-width="1.2" stroke-linejoin="round"/>
<g fill="#9d9d9d"><circle cx="227.3" cy="636.1" r="2"/><circle cx="229.1" cy="635.8" r="2"/><circle cx="231.5" cy="632.1" r="2"/><circle cx="233.1" cy="634" r="2"/><circle cx="234.7" cy="633" r="2"/><circle cx="237" cy="634.5" r="2"/><circle cx="239.2" cy="635.6" r="2"/><circle cx="241.5" cy="635.2" r="2"/><circle cx="243.1" cy="632.5" r="2"/><circle cx="245" cy="637.5" r="2"/><circle cx="247.3" cy="636.2" r="2"/><circle cx="249.4" cy="636" r="2"/><circle cx="251.3" cy="634.8" r="2"/><circle cx="253" cy="631.2" r="2"/><circle cx="255.3" cy="628.9" r="2"/><circle cx="257.2" cy="633.8" r="2"/><circle cx="259.5" cy="636.2" r="2"/><circle cx="261.1" cy="639.5" r="2"/><circle cx="263.4" cy="638.9" r="2"/><circle cx="264.9" cy="640" r="2"/><circle cx="266.7" cy="638.7" r="2"/><circle cx="268.7" cy="637.3" r="2"/><circle cx="270.3" cy="637.6" r="2"/><circle cx="271.9" cy="637" r="2"/><circle cx="274.1" cy="636.3" r="2"/><circle cx="275.7" cy="634.2" r="2"/><circle cx="277.5" cy="635.4" r="2"/><circle cx="279.3" cy="635.2" r="2"/></g>
<path d="M286.1 659.8Q284.1 659.8 284.1 657.8L284.1 637.6L284.1 637.6L284.8 632.5L288.2 630.8L291.5 635.9L294.9 637.6L298.3 634.2L300 633.3L302.5 634.2L305.1 635L307.6 639.3L310.1 638.4L312.7 632.5L314.4 630L316.1 635.9L318.6 632.5L321.1 632.5L323.7 636.7L326.2 637.6L328.8 637.6L331.3 636.7L333.8 637.6L336.4 640.1L336.7 641.8L336.7 641.8L336.7 657.8Q336.7 659.8 334.7 659.8Z" fill="#afafaf" stroke="#afafaf" stroke-width="1.2" stroke-linejoin="round"/>
<g fill="#afafaf"><circle cx="285.7" cy="634" r="2"/><circle cx="288" cy="631.2" r="2"/><circle cx="290" cy="635.5" r="2"/><circle cx="291.4" cy="637.9" r="2"/><circle cx="292.9" cy="638.2" r="2"/><circle cx="294.9" cy="639.2" r="2"/><circle cx="296.6" cy="637.1" r="2"/><circle cx="298.6" cy="635.3" r="2"/><circle cx="300.6" cy="634.8" r="2"/><circle cx="302.5" cy="634.4" r="2"/><circle cx="304.5" cy="636.2" r="2"/><circle cx="306.1" cy="638.8" r="2"/><circle cx="308.3" cy="640.3" r="2"/><circle cx="309.9" cy="639.8" r="2"/><circle cx="311.4" cy="636.1" r="2"/><circle cx="313.2" cy="632.1" r="2"/><circle cx="315" cy="633.7" r="2"/><circle cx="316.5" cy="637" r="2"/><circle cx="318" cy="635.3" r="2"/><circle cx="320.1" cy="633.9" r="2"/><circle cx="321.6" cy="634.7" r="2"/><circle cx="323.4" cy="638.7" r="2"/><circle cx="324.9" cy="639.4" r="2"/><circle cx="327.3" cy="639.5" r="2"/><circle cx="329.5" cy="638" r="2"/><circle cx="331.9" cy="638.3" r="2"/><circle cx="334.3" cy="640.4" r="2"/></g>
<path d="M342.1 659.8Q340.1 659.8 340.1 657.8L340.1 635.9L340.6 635.9L342.3 634.2L344.8 635.9L347.4 635.9L350.7 635.9L354.1 635L357.5 635L360 637.6L362.6 633.3L366 635.9L369.3 637.6L371 633.3L374.4 634.2L377 629.1L378.1 624L379.5 629.1L381.2 631.7L383.7 635L386.3 635.9L389.6 636.7L390.2 637.6L390.2 637.6L390.2 657.8Q390.2 659.8 388.2 659.8Z" fill="#9d9d9d" stroke="#9d9d9d" stroke-width="1.2" stroke-linejoin="round"/>
<g fill="#9d9d9d"><circle cx="341.7" cy="636.9" r="2"/><circle cx="344" cy="635.7" r="2"/><circle cx="345.8" cy="637.9" r="2"/><circle cx="347.3" cy="638.2" r="2"/><circle cx="349" cy="638" r="2"/><circle cx="350.6" cy="637.3" r="2"/><circle cx="352.9" cy="636" r="2"/><circle cx="354.5" cy="636.4" r="2"/><circle cx="356.3" cy="635.3" r="2"/><circle cx="357.8" cy="636" r="2"/><circle cx="360.2" cy="639.2" r="2"/><circle cx="362.5" cy="634.1" r="2"/><circle cx="364.7" cy="635.4" r="2"/><circle cx="366.6" cy="637.9" r="2"/><circle cx="368.3" cy="639.4" r="2"/><circle cx="370.3" cy="636.8" r="2"/><circle cx="372.6" cy="634.2" r="2"/><circle cx="375" cy="634.8" r="2"/><circle cx="376.8" cy="631.6" r="2"/><circle cx="378.4" cy="627.7" r="2"/><circle cx="380.4" cy="631.6" r="2"/><circle cx="382.6" cy="634.8" r="2"/><circle cx="384.2" cy="637.2" r="2"/><circle cx="385.6" cy="637.8" r="2"/><circle cx="387.3" cy="637.9" r="2"/></g>
<path d="M395.5 659.8Q393.5 659.8 393.5 657.8L393.5 635.9L393.9 635.9L396.4 629.1L398.9 628.3L401.5 634.2L408.2 629.1L411.6 635L415 634.2L418.4 624.9L420.9 624.9L422.6 634.2L425.2 628.3L426.8 630.8L429.4 632.5L431.9 625.7L434.5 625.7L436.2 633.3L438.7 634.2L440.9 636.7L440.9 636.7L440.9 657.8Q440.9 659.8 438.9 659.8Z" fill="#afafaf" stroke="#afafaf" stroke-width="1.2" stroke-linejoin="round"/>
<g fill="#afafaf"><circle cx="395.1" cy="634.2" r="2"/><circle cx="397.2" cy="629.8" r="2"/><circle cx="398.6" cy="628.7" r="2"/><circle cx="400.1" cy="632.7" r="2"/><circle cx="401.9" cy="635.3" r="2"/><circle cx="404.2" cy="632.6" r="2"/><circle cx="405.9" cy="632.7" r="2"/><circle cx="407.3" cy="630" r="2"/><circle cx="409" cy="631" r="2"/><circle cx="410.8" cy="634.3" r="2"/><circle cx="412.8" cy="636.4" r="2"/><circle cx="414.4" cy="636" r="2"/><circle cx="416.3" cy="631.3" r="2"/><circle cx="418.6" cy="625.7" r="2"/><circle cx="420.2" cy="625.3" r="2"/><circle cx="422.2" cy="634.1" r="2"/><circle cx="424.4" cy="631.3" r="2"/><circle cx="426" cy="629.8" r="2"/><circle cx="428.1" cy="633.2" r="2"/><circle cx="429.8" cy="633.1" r="2"/><circle cx="431.7" cy="628.8" r="2"/><circle cx="433.8" cy="626.5" r="2"/><circle cx="436.1" cy="633.5" r="2"/><circle cx="438" cy="635.1" r="2"/></g>
<path d="M446.3 659.8Q444.3 659.8 444.3 657.8L444.3 637.6L444.7 637.6L446.8 630.8L449.3 628.3L451.5 626.6L453.5 632.5L456.1 633.3L458.6 635L461.1 635L463.7 629.1L465.4 630L467.1 634.2L474.7 633.3L477.2 632.5L479.7 634.2L482.3 635L484.8 633.3L487.4 632.5L488.3 635L488.3 635L488.3 657.8Q488.3 659.8 486.3 659.8Z" fill="#9d9d9d" stroke="#9d9d9d" stroke-width="1.2" stroke-linejoin="round"/>
<g fill="#9d9d9d"><circle cx="445.9" cy="634" r="2"/><circle cx="448.1" cy="629.7" r="2"/><circle cx="450" cy="630.2" r="2"/><circle cx="451.6" cy="627.5" r="2"/><circle cx="453.6" cy="633.9" r="2"/><circle cx="455.6" cy="635.3" r="2"/><circle cx="457.2" cy="635" r="2"/><circle cx="458.9" cy="635.3" r="2"/><circle cx="461.2" cy="637" r="2"/><circle cx="463.3" cy="630.2" r="2"/><circle cx="465.5" cy="632.4" r="2"/><circle cx="467.4" cy="636.1" r="2"/><circle cx="469.3" cy="634.7" r="2"/><circle cx="470.8" cy="634.5" r="2"/><circle cx="472.2" cy="634.6" r="2"/><circle cx="474.4" cy="635.2" r="2"/><circle cx="476.6" cy="634.6" r="2"/><circle cx="478.3" cy="634.7" r="2"/><circle cx="480.1" cy="636.4" r="2"/><circle cx="482" cy="635.8" r="2"/><circle cx="484.1" cy="636.4" r="2"/><circle cx="485.7" cy="635.4" r="2"/></g>
<path d="M493.6 659.8Q491.6 659.8 491.6 657.8L491.6 634.2L492.4 634.2L494.1 629.1L502.6 630.8L505.1 635.9L507.7 635L510.2 634.2L512.7 633.3L515.3 635L517.8 631.7L520.3 634.2L522.9 635L525.4 632.5L527.9 635.9L530.5 637.6L532.2 638.4L532.2 638.4L532.2 657.8Q532.2 659.8 530.2 659.8Z" fill="#afafaf" stroke="#afafaf" stroke-width="1.2" stroke-linejoin="round"/>
<g fill="#afafaf"><circle cx="493.2" cy="632.7" r="2"/><circle cx="494.8" cy="631.2" r="2"/><circle cx="497.2" cy="631.7" r="2"/><circle cx="498.9" cy="632.4" r="2"/><circle cx="500.6" cy="631.2" r="2"/><circle cx="502.9" cy="633.2" r="2"/><circle cx="505" cy="637.5" r="2"/><circle cx="507.4" cy="636.4" r="2"/><circle cx="509.7" cy="636.2" r="2"/><circle cx="511.9" cy="634.9" r="2"/><circle cx="514" cy="635.8" r="2"/><circle cx="515.7" cy="635.1" r="2"/><circle cx="517.8" cy="632.1" r="2"/><circle cx="520.1" cy="634.5" r="2"/><circle cx="521.5" cy="635" r="2"/><circle cx="523.8" cy="635.1" r="2"/><circle cx="525.4" cy="632.8" r="2"/><circle cx="526.8" cy="636.2" r="2"/><circle cx="528.9" cy="638.4" r="2"/></g>
<path d="M537.6 659.8Q535.6 659.8 535.6 657.8L535.6 636.7L536.4 636.7L539.8 635.9L542.3 635.9L544 634.2L546.2 632.5L548.2 635L549.8 638.4L549.8 638.4L549.8 657.8Q549.8 659.8 547.8 659.8Z" fill="#9d9d9d" stroke="#9d9d9d" stroke-width="1.2" stroke-linejoin="round"/>
<path d="M556.2 659.8Q554.2 659.8 554.2 657.8L554.2 639.3L555 639.3L556.7 634.2L559.2 630L561.8 628.3L564.3 631.7L566.8 632.5L569.4 630L571.9 634.2L574.5 635.9L575.2 637.6L575.2 637.6L575.2 657.8Q575.2 659.8 573.2 659.8Z" fill="#9d9d9d" stroke="#9d9d9d" stroke-width="1.2" stroke-linejoin="round"/>
<g fill="#9d9d9d"><circle cx="537.2" cy="636.9" r="2"/><circle cx="539.2" cy="637.1" r="2"/><circle cx="541.4" cy="638" r="2"/><circle cx="543.7" cy="634.9" r="2"/><circle cx="546" cy="635.1" r="2"/><circle cx="555.8" cy="637.4" r="2"/><circle cx="557.4" cy="633.5" r="2"/><circle cx="558.8" cy="632.9" r="2"/><circle cx="561.1" cy="630.5" r="2"/><circle cx="563.3" cy="632" r="2"/><circle cx="565" cy="632.3" r="2"/><circle cx="566.5" cy="634.4" r="2"/><circle cx="568.1" cy="632.2" r="2"/><circle cx="569.9" cy="631" r="2"/><circle cx="571.5" cy="634.4" r="2"/><circle cx="573.7" cy="636.4" r="2"/></g>
<path d="M580.5 659.8Q578.5 659.8 578.5 657.8L578.5 636.7L578.5 636.7L580 635.9L582.5 632.5L585.1 635L588.5 635.9L591 633.3L593.5 635.9L596.9 635.9L600.3 635L603.7 635.9L607.1 636.7L610.4 635.9L613 636.7L614.7 634.2L616.4 637.6L616.4 637.6L616.4 657.8Q616.4 659.8 614.4 659.8Z" fill="#afafaf" stroke="#afafaf" stroke-width="1.2" stroke-linejoin="round"/>
<g fill="#afafaf"><circle cx="580.1" cy="638.3" r="2"/><circle cx="582" cy="635.5" r="2"/><circle cx="584" cy="634.3" r="2"/><circle cx="585.8" cy="636.5" r="2"/><circle cx="588" cy="636.8" r="2"/><circle cx="590.1" cy="635.7" r="2"/><circle cx="591.7" cy="636.3" r="2"/><circle cx="593.2" cy="637.7" r="2"/><circle cx="594.8" cy="636.1" r="2"/><circle cx="596.4" cy="637.9" r="2"/><circle cx="598.8" cy="635.6" r="2"/><circle cx="600.7" cy="636.5" r="2"/><circle cx="602.9" cy="636.3" r="2"/><circle cx="604.8" cy="637.2" r="2"/><circle cx="607" cy="637.5" r="2"/><circle cx="609.3" cy="637" r="2"/><circle cx="610.9" cy="637.9" r="2"/><circle cx="612.8" cy="637.1" r="2"/><circle cx="614.9" cy="635" r="2"/></g>
<path d="M621.8 659.8Q619.8 659.8 619.8 657.8L619.8 634.2L620.6 634.2L622.3 629.1L624.3 624L626 629.1L628.2 635.9L630.7 630.8L633.3 631.7L635.8 632.5L638.4 637.6L640.9 630.8L643.4 631.7L646 634.2L648.5 635L651 635.9L654.4 635.9L657 635.9L657.7 637.6L657.7 637.6L657.7 657.8Q657.7 659.8 655.7 659.8Z" fill="#9d9d9d" stroke="#9d9d9d" stroke-width="1.2" stroke-linejoin="round"/>
<g fill="#9d9d9d"><circle cx="621.4" cy="633.6" r="2"/><circle cx="623.6" cy="627.6" r="2"/><circle cx="625.3" cy="628.3" r="2"/><circle cx="627.1" cy="634.9" r="2"/><circle cx="628.6" cy="637.4" r="2"/><circle cx="630" cy="632.9" r="2"/><circle cx="631.7" cy="633.5" r="2"/><circle cx="633.6" cy="632.9" r="2"/><circle cx="635.9" cy="633.4" r="2"/><circle cx="637.8" cy="637.9" r="2"/><circle cx="639.9" cy="635.4" r="2"/><circle cx="642" cy="632.2" r="2"/><circle cx="643.7" cy="632.5" r="2"/><circle cx="645.9" cy="635.9" r="2"/><circle cx="648.1" cy="635.5" r="2"/><circle cx="649.9" cy="637.6" r="2"/><circle cx="651.9" cy="636.4" r="2"/><circle cx="653.8" cy="638.2" r="2"/><circle cx="655.4" cy="636.5" r="2"/></g>
<path d="M663.1 659.8Q661.1 659.8 661.1 657.8L661.1 636.7L662 636.7L664.6 635.9L676.4 635.9L679.8 633.3L682.3 634.2L684.9 635.9L687.4 635L689.9 635L693.3 634.2L695.9 631.7L697.5 635.9L697.5 635.9L697.5 657.8Q697.5 659.8 695.5 659.8Z" fill="#afafaf" stroke="#afafaf" stroke-width="1.2" stroke-linejoin="round"/>
<g fill="#afafaf"><circle cx="662.7" cy="638.4" r="2"/><circle cx="664.9" cy="636.4" r="2"/><circle cx="666.5" cy="636.7" r="2"/><circle cx="668.2" cy="637.3" r="2"/><circle cx="669.8" cy="636.9" r="2"/><circle cx="671.4" cy="638.4" r="2"/><circle cx="673.5" cy="636.3" r="2"/><circle cx="675.9" cy="636.3" r="2"/><circle cx="677.7" cy="637.5" r="2"/><circle cx="679.8" cy="635.3" r="2"/><circle cx="681.7" cy="634.6" r="2"/><circle cx="683.7" cy="635.6" r="2"/><circle cx="685.3" cy="636.9" r="2"/><circle cx="686.8" cy="636.4" r="2"/><circle cx="689" cy="636.9" r="2"/><circle cx="690.9" cy="636.5" r="2"/><circle cx="692.7" cy="634.9" r="2"/><circle cx="694.7" cy="634" r="2"/></g>
<path d="M702.9 659.8Q700.9 659.8 700.9 657.8L700.9 637.6L701.8 637.6L704.3 633.3L706.8 632.5L709.4 629.1L711.9 628.3L714.5 627.4L716.2 633.3L723.4 632.5L723.8 632.5L725.9 631.7L726.3 629.1L727.6 635.9L728 635.9L728.5 639.3L728.5 637.6L728.5 637.6L728.5 657.8Q728.5 659.8 726.5 659.8Z" fill="#9d9d9d" stroke="#9d9d9d" stroke-width="1.2" stroke-linejoin="round"/>
<g fill="#9d9d9d"><circle cx="702.5" cy="638.7" r="2"/><circle cx="704.3" cy="634.9" r="2"/><circle cx="706.5" cy="633.8" r="2"/><circle cx="708.1" cy="632.8" r="2"/><circle cx="710.4" cy="630.8" r="2"/><circle cx="712.5" cy="630.3" r="2"/><circle cx="714.6" cy="629.5" r="2"/><circle cx="716.4" cy="634.3" r="2"/><circle cx="718.4" cy="633.5" r="2"/><circle cx="720.3" cy="634.9" r="2"/><circle cx="722.4" cy="634.3" r="2"/><circle cx="724" cy="633.6" r="2"/><circle cx="725.9" cy="633.4" r="2"/></g>
<path d="M733.9 659.8Q731.9 659.8 731.9 657.8L731.9 630.8L732.7 630.8L734.4 629.1L736.9 624L738.9 622.3L740.3 634.2L743.7 635L751.3 626.6L753 632.5L755.5 634.2L757 637.6L757 637.6L757 657.8Q757 659.8 755 659.8Z" fill="#afafaf" stroke="#afafaf" stroke-width="1.2" stroke-linejoin="round"/>
<g fill="#afafaf"><circle cx="733.5" cy="631.8" r="2"/><circle cx="735.8" cy="626.8" r="2"/><circle cx="737.9" cy="625.3" r="2"/><circle cx="739.7" cy="630.1" r="2"/><circle cx="742" cy="634.9" r="2"/><circle cx="744" cy="635.3" r="2"/><circle cx="746.2" cy="634.7" r="2"/><circle cx="748.1" cy="630.6" r="2"/><circle cx="750.1" cy="629.4" r="2"/><circle cx="752.2" cy="631.1" r="2"/><circle cx="754.2" cy="635.5" r="2"/></g>
<path d="M762.1 659.8Q760.1 659.8 760.1 657.8L760.1 633.3L760.6 633.3L764 633.3L766.5 635.9L769 637.6L771.6 636.7L779.2 635.9L781.7 632.5L784.3 636.7L784.8 639.3L784.8 639.3L784.8 657.8Q784.8 659.8 782.8 659.8Z" fill="#9d9d9d" stroke="#9d9d9d" stroke-width="1.2" stroke-linejoin="round"/>
<g fill="#9d9d9d"><circle cx="761.7" cy="634.5" r="2"/><circle cx="764" cy="634.1" r="2"/><circle cx="766.1" cy="636.6" r="2"/><circle cx="768.3" cy="637.6" r="2"/><circle cx="770.7" cy="638.1" r="2"/><circle cx="772.1" cy="637.5" r="2"/><circle cx="773.9" cy="636.7" r="2"/><circle cx="775.8" cy="637.5" r="2"/><circle cx="777.9" cy="637.1" r="2"/><circle cx="779.5" cy="636.2" r="2"/><circle cx="781.7" cy="635.1" r="2"/></g>
<path d="M789.3 659.8Q787.3 659.8 787.3 657.8L787.3 635.9L788.5 635.9L790.2 630.8L792.7 633.3L795.3 637.6L798.6 637.6L801.2 631.7L802.9 633.3L805.4 635.9L807.9 633.3L810.5 637.6L813 638.4L813.5 638.4L813.5 657.8Q813.5 659.8 811.5 659.8Z" fill="#afafaf" stroke="#afafaf" stroke-width="1.2" stroke-linejoin="round"/>
<g fill="#afafaf"><circle cx="788.9" cy="635.4" r="2"/><circle cx="791.1" cy="632.9" r="2"/><circle cx="792.7" cy="633.8" r="2"/><circle cx="794.9" cy="639.1" r="2"/><circle cx="796.9" cy="638.9" r="2"/><circle cx="798.9" cy="637.8" r="2"/><circle cx="801.3" cy="632.8" r="2"/><circle cx="803.3" cy="635.9" r="2"/><circle cx="805.5" cy="637.1" r="2"/><circle cx="807.2" cy="635.6" r="2"/><circle cx="808.7" cy="636.8" r="2"/><circle cx="810.5" cy="639.8" r="2"/></g>
<path d="M818.3 659.8Q816.3 659.8 816.3 657.8L816.3 637.6L817.3 637.6L819.8 635.9L823.2 635.9L826.6 634.2L829.9 632.5L832.5 634.2L835 635.9L837.5 630.8L839.2 634.2L839.2 634.2L839.2 657.8Q839.2 659.8 837.2 659.8Z" fill="#9d9d9d" stroke="#9d9d9d" stroke-width="1.2" stroke-linejoin="round"/>
<g fill="#9d9d9d"><circle cx="817.9" cy="638.2" r="2"/><circle cx="819.6" cy="637.3" r="2"/><circle cx="821.1" cy="636.1" r="2"/><circle cx="823.3" cy="636.7" r="2"/><circle cx="824.9" cy="635.9" r="2"/><circle cx="826.8" cy="635.3" r="2"/><circle cx="828.8" cy="634.8" r="2"/><circle cx="830.6" cy="635.4" r="2"/><circle cx="832.8" cy="634.8" r="2"/><circle cx="835.1" cy="638.1" r="2"/><circle cx="837.3" cy="631.9" r="2"/></g>
<path d="M844.4 659.8Q842.4 659.8 842.4 657.8L842.4 636.7L843.5 636.7L846 635L848.5 636.7L851.9 637.6L855.3 637.6L857.8 636.7L860.4 635.9L862.9 637.6L865.4 638.4L865.4 638.4L865.4 657.8Q865.4 659.8 863.4 659.8Z" fill="#afafaf" stroke="#afafaf" stroke-width="1.2" stroke-linejoin="round"/>
<g fill="#afafaf"><circle cx="844" cy="638.1" r="2"/><circle cx="845.4" cy="635.7" r="2"/><circle cx="847.8" cy="638" r="2"/><circle cx="849.4" cy="637.4" r="2"/><circle cx="851" cy="638.1" r="2"/><circle cx="853.1" cy="638.6" r="2"/><circle cx="854.7" cy="639.9" r="2"/><circle cx="856.9" cy="637.6" r="2"/><circle cx="859.2" cy="637.9" r="2"/><circle cx="861.4" cy="638.3" r="2"/><circle cx="863.6" cy="639.9" r="2"/></g>
<path d="M870.5 659.8Q868.5 659.8 868.5 657.8L868.5 638.6L868.5 638.6L873.6 637.7L876.4 638.6L878.2 636.7L880 637.2L881.8 632.2L882.7 627.7L884.1 628.1L885 633.1L886.4 634.9L887.1 637.7L887.1 637.7L887.1 657.8Q887.1 659.8 885.1 659.8Z" fill="#9d9d9d" stroke="#9d9d9d" stroke-width="1.2" stroke-linejoin="round"/>
<g fill="#9d9d9d"><circle cx="870.1" cy="639" r="2"/><circle cx="872.2" cy="639.4" r="2"/><circle cx="874.3" cy="639.1" r="2"/><circle cx="876.6" cy="639.8" r="2"/><circle cx="878.3" cy="637.5" r="2"/><circle cx="879.8" cy="638.5" r="2"/><circle cx="881.3" cy="635" r="2"/><circle cx="882.8" cy="629.1" r="2"/><circle cx="884.7" cy="633.1" r="2"/></g>
<path d="M892.3 659.8Q890.3 659.8 890.3 657.8L890.3 638.6L890.5 638.6L891.8 635.8L893.6 634.5L895.9 634L897.7 632.7L904.5 634L905.9 629L907.3 634.5L908.9 636.7L908.9 636.7L908.9 657.8Q908.9 659.8 906.9 659.8Z" fill="#afafaf" stroke="#afafaf" stroke-width="1.2" stroke-linejoin="round"/>
<g fill="#afafaf"><circle cx="891.9" cy="636" r="2"/><circle cx="894.1" cy="635.7" r="2"/><circle cx="896.1" cy="635.7" r="2"/><circle cx="898.3" cy="633.9" r="2"/><circle cx="900.2" cy="635.6" r="2"/><circle cx="901.6" cy="635.2" r="2"/><circle cx="903.7" cy="634.1" r="2"/><circle cx="905.7" cy="631.7" r="2"/></g>
<path d="M914.1 659.8Q912.1 659.8 912.1 657.8L912.1 639.5L912.7 639.5L914.5 636.7L916.4 635.8L918.2 634.5L920 631.3L921.8 630.8L923.6 637.7L924.2 641.3L924.2 641.3L924.2 657.8Q924.2 659.8 922.2 659.8Z" fill="#9d9d9d" stroke="#9d9d9d" stroke-width="1.2" stroke-linejoin="round"/>
<g fill="#9d9d9d"><circle cx="913.7" cy="639" r="2"/><circle cx="916.1" cy="637.4" r="2"/><circle cx="918" cy="637" r="2"/><circle cx="919.4" cy="634.3" r="2"/><circle cx="921.4" cy="631.9" r="2"/></g>
<path d="M929.3 659.8Q927.3 659.8 927.3 657.8L927.3 634.9L927.7 634.9L929.1 633.1L930.9 626.7L932.3 625.8L933.2 632.2L935 633.6L936.8 634L938.6 634.9L938.8 638.6L938.8 638.6L938.8 657.8Q938.8 659.8 936.8 659.8Z" fill="#afafaf" stroke="#afafaf" stroke-width="1.2" stroke-linejoin="round"/>
<g fill="#afafaf"><circle cx="928.9" cy="634.4" r="2"/><circle cx="930.8" cy="628.7" r="2"/><circle cx="932.9" cy="631.2" r="2"/><circle cx="934.8" cy="634.6" r="2"/><circle cx="936.7" cy="636.2" r="2"/></g>
<circle cx="111.3" cy="627.9" r="2.1" fill="#9d9d9d"/>
<circle cx="99" cy="629.2" r="2.1" fill="#9d9d9d"/>
<circle cx="148.5" cy="630.3" r="2.1" fill="#9d9d9d"/>
<circle cx="256.2" cy="621.5" r="2.1" fill="#9d9d9d"/>
<circle cx="256.2" cy="624.5" r="2.1" fill="#9d9d9d"/>
<circle cx="275.2" cy="623.7" r="2.1" fill="#9d9d9d"/>
<circle cx="275.2" cy="625.4" r="2.1" fill="#9d9d9d"/>
<circle cx="268.4" cy="631.6" r="2.1" fill="#9d9d9d"/>
<circle cx="275.2" cy="631.3" r="2.1" fill="#9d9d9d"/>
<circle cx="333" cy="629.9" r="2.1" fill="#afafaf"/>
<circle cx="727.1" cy="627.1" r="2.1" fill="#9d9d9d"/>
<circle cx="738.6" cy="620.3" r="2.1" fill="#afafaf"/>
<circle cx="751.3" cy="624.5" r="2.1" fill="#afafaf"/>
<circle cx="782.2" cy="631" r="2.1" fill="#9d9d9d"/>
<circle cx="802" cy="625.4" r="2.1" fill="#afafaf"/>
<circle cx="849.7" cy="623.2" r="2.1" fill="#afafaf"/>
<circle cx="861.4" cy="626.2" r="2.1" fill="#afafaf"/>
<circle cx="915.6" cy="630.5" r="2.1" fill="#9d9d9d"/>
<circle cx="861.6" cy="626.5" r="2.1" fill="#afafaf"/>
<circle cx="404.9" cy="607" r="2.1" fill="#0000dc"/>
<circle cx="404.9" cy="622.8" r="2.1" fill="#0000dc"/>
<circle cx="470.7" cy="598.1" r="2.1" fill="#0000dc"/>
<circle cx="499.1" cy="612.6" r="2.1" fill="#e80000"/>
<circle cx="669" cy="515" r="2.1" fill="#0000dc"/>
<circle cx="669" cy="518.5" r="2.1" fill="#0000dc"/>
<circle cx="669" cy="522" r="2.1" fill="#0000dc"/>
<circle cx="669" cy="525.5" r="2.1" fill="#0000dc"/>
<circle cx="669" cy="529" r="2.1" fill="#0000dc"/>
<circle cx="669" cy="532.8" r="2.1" fill="#0000dc"/>
<circle cx="669" cy="536.5" r="2.1" fill="#0000dc"/>
<circle cx="669" cy="540.2" r="2.1" fill="#0000dc"/>
<circle cx="669" cy="543.9" r="2.1" fill="#0000dc"/>
<circle cx="871" cy="503.4" r="2.1" fill="#0000dc"/>
<circle cx="871" cy="512.3" r="2.1" fill="#0000dc"/>
<circle cx="871" cy="569.3" r="2.1" fill="#0000dc"/>
<circle cx="871" cy="608.3" r="2.1" fill="#0000dc"/>
<path d="M205.5 614.8V658.6" stroke="#e80000" stroke-width="4.2" stroke-linecap="round"/>
<path d="M404.9 632.6V658.6" stroke="#0000dc" stroke-width="4.2" stroke-linecap="round"/>
<path d="M470.7 576.1V590.9" stroke="#0000dc" stroke-width="4.2" stroke-linecap="round"/>
<path d="M470.7 609.5V614.6" stroke="#0000dc" stroke-width="4.2" stroke-linecap="round"/>
<path d="M470.7 623V658.6" stroke="#0000dc" stroke-width="4.2" stroke-linecap="round"/>
<path d="M499.1 628.6V658.6" stroke="#e80000" stroke-width="4.2" stroke-linecap="round"/>
<path d="M499.6 642.1V658.6" stroke="#e80000" stroke-width="4.2" stroke-linecap="round"/>
<path d="M671 569.1V658.6" stroke="#0000dc" stroke-width="4.2" stroke-linecap="round"/>
<path d="M668.9 605.1V658.6" stroke="#0000dc" stroke-width="4.2" stroke-linecap="round"/>
<path d="M671.8 602.1V658.6" stroke="#0000dc" stroke-width="4.2" stroke-linecap="round"/>
<path d="M669.6 596.1V658.6" stroke="#0000dc" stroke-width="4.2" stroke-linecap="round"/>
<path d="M720.8 618.5V658.6" stroke="#e80000" stroke-width="4.2" stroke-linecap="round"/>
<path d="M747.6 605.8V658.6" stroke="#0000dc" stroke-width="4.2" stroke-linecap="round"/>
<path d="M776.1 619.8V658.6" stroke="#e80000" stroke-width="4.2" stroke-linecap="round"/>
<path d="M871 468.3V468.5" stroke="#0000dc" stroke-width="4.2" stroke-linecap="round"/>
<path d="M871 479.4V479.4" stroke="#0000dc" stroke-width="4.2" stroke-linecap="round"/>
<path d="M871 492.1V493.9" stroke="#0000dc" stroke-width="4.2" stroke-linecap="round"/>
<path d="M871 630.8V658.6" stroke="#0000dc" stroke-width="4.2" stroke-linecap="round"/>
<path d="M901.5 610.6V658.6" stroke="#e80000" stroke-width="4.2" stroke-linecap="round"/>
<text transform="translate(128 668.8) rotate(-90)" font-size="21.2" text-anchor="end">1</text>
<text transform="translate(196 668.8) rotate(-90)" font-size="21.2" text-anchor="end">2</text>
<text transform="translate(263.1 668.8) rotate(-90)" font-size="21.2" text-anchor="end">3</text>
<text transform="translate(319.4 668.8) rotate(-90)" font-size="21.2" text-anchor="end">4</text>
<text transform="translate(374.5 668.8) rotate(-90)" font-size="21.2" text-anchor="end">5</text>
<text transform="translate(425.4 668.8) rotate(-90)" font-size="21.2" text-anchor="end">6</text>
<text transform="translate(474.6 668.8) rotate(-90)" font-size="21.2" text-anchor="end">7</text>
<text transform="translate(521.5 668.8) rotate(-90)" font-size="21.2" text-anchor="end">8</text>
<text transform="translate(564.2 668.8) rotate(-90)" font-size="21.2" text-anchor="end">9</text>
<text transform="translate(607.8 668.8) rotate(-90)" font-size="21.2" text-anchor="end">10</text>
<text transform="translate(646 668.8) rotate(-90)" font-size="21.2" text-anchor="end">11</text>
<text transform="translate(687.9 668.8) rotate(-90)" font-size="21.2" text-anchor="end">12</text>
<text transform="translate(719.5 668.8) rotate(-90)" font-size="21.2" text-anchor="end">13</text>
<text transform="translate(749.8 668.8) rotate(-90)" font-size="21.2" text-anchor="end">14</text>
<text transform="translate(778.3 668.8) rotate(-90)" font-size="21.2" text-anchor="end">15</text>
<text transform="translate(807.3 668.8) rotate(-90)" font-size="21.2" text-anchor="end">16</text>
<text transform="translate(834.9 668.8) rotate(-90)" font-size="21.2" text-anchor="end">17</text>
<text transform="translate(859.5 668.8) rotate(-90)" font-size="21.2" text-anchor="end">18</text>
<text transform="translate(883.5 668.8) rotate(-90)" font-size="21.2" text-anchor="end">19</text>
<text transform="translate(906 668.8) rotate(-90)" font-size="21.2" text-anchor="end">20</text>
<text transform="translate(923 668.8) rotate(-90)" font-size="21.2" text-anchor="end">21</text>
<text transform="translate(940.2 668.8) rotate(-90)" font-size="21.2" text-anchor="end">22</text>
<text x="510.5" y="711.3" font-size="21.2" text-anchor="middle">Chromosome</text>
<text x="830.9" y="454.1" font-size="18.4" font-style="italic">NDUFA11</text>
<text x="622.1" y="503.2" font-size="18.4" font-style="italic">LINC00477</text>
<text x="669.6" y="563.5" font-size="18.4" font-style="italic">SYT10</text>
<text x="717.2" y="590.9" font-size="18.4" font-style="italic">RGS6</text>
<text x="759.6" y="607.4" font-size="18.4" font-style="italic">NEO1</text>
<text x="862.7" y="597.3" font-size="18.4" font-style="italic">KIAA1755</text>
<text x="440.8" y="560.8" font-size="18.4" font-style="italic">GNG11</text>
<text x="382.1" y="599.7" font-size="18.4" font-style="italic">PPIL1</text>
<text x="0.3" y="755.9" font-size="30" font-weight="bold">c</text>
<path d="M79.6 753.4V1017.1" stroke="#222" stroke-width="1.3" fill="none"/>
<path d="M75 1017.1H79.6" stroke="#222" stroke-width="1.3"/>
<text x="68.8" y="1023.5" font-size="21.2" text-anchor="end">0</text>
<path d="M75 951.2H79.6" stroke="#222" stroke-width="1.3"/>
<text x="68.8" y="957.6" font-size="21.2" text-anchor="end">10</text>
<path d="M75 885.2H79.6" stroke="#222" stroke-width="1.3"/>
<text x="68.8" y="891.6" font-size="21.2" text-anchor="end">20</text>
<path d="M75 819.3H79.6" stroke="#222" stroke-width="1.3"/>
<text x="68.8" y="825.7" font-size="21.2" text-anchor="end">30</text>
<path d="M75 753.4H79.6" stroke="#222" stroke-width="1.3"/>
<text x="68.8" y="759.8" font-size="21.2" text-anchor="end">40</text>
<text transform="translate(23.9 889.9) rotate(-90)" font-size="21.2" text-anchor="middle">−log10 <tspan font-style="italic">P</tspan> value</text>
<path d="M80.5 969H945" stroke="#9f9bd8" stroke-width="1.3"/>
<path d="M87.1 1018.3Q85.1 1018.3 85.1 1016.3L85.1 996.6L85.9 996.6L86.8 989.8L88.5 990.7L90.1 993.2L91.8 994L93.5 995.7L95.2 993.2L96.9 991.5L98.2 991.9L99.5 995.7L101.6 996.6L102.8 991.5L103.7 979.7L105.8 979.7L106.6 990.7L108.3 990.7L109.2 994.9L110.9 994L113 992.3L114.7 991.1L116.8 991.5L117.6 998.3L118.9 998.3L119.6 1000L119.6 1000L119.6 1016.3Q119.6 1018.3 117.6 1018.3Z" fill="#9d9d9d" stroke="#9d9d9d" stroke-width="1.2" stroke-linejoin="round"/>
<path d="M125.1 1018.3Q123.1 1018.3 123.1 1016.3L123.1 1003.3L123.6 1003.3L124.8 999.1L127.4 996.6L129 992.3L130.7 995.7L132.4 996.6L134.1 989L136.2 989L137.1 994.9L139.2 986.4L141.3 986.4L142.2 993.2L143.8 994L145.1 996.6L146.8 994.9L148.5 989.8L151 989.4L152.3 995.7L153.1 999.1L153.1 999.1L153.1 1016.3Q153.1 1018.3 151.1 1018.3Z" fill="#9d9d9d" stroke="#9d9d9d" stroke-width="1.2" stroke-linejoin="round"/>
<g fill="#9d9d9d"><circle cx="86.7" cy="992.5" r="2"/><circle cx="88.5" cy="992.1" r="2"/><circle cx="90.2" cy="994.6" r="2"/><circle cx="92.6" cy="996.5" r="2"/><circle cx="94.7" cy="994.9" r="2"/><circle cx="96.5" cy="992.9" r="2"/><circle cx="98.4" cy="994.4" r="2"/><circle cx="100.6" cy="996.5" r="2"/><circle cx="102.8" cy="994.1" r="2"/><circle cx="104.7" cy="980" r="2"/><circle cx="106.4" cy="987.7" r="2"/><circle cx="108" cy="993.1" r="2"/><circle cx="110" cy="996.2" r="2"/><circle cx="112.2" cy="995.4" r="2"/><circle cx="114.2" cy="993.1" r="2"/><circle cx="116.2" cy="993.3" r="2"/><circle cx="124.7" cy="1001.3" r="2"/><circle cx="126.3" cy="999.4" r="2"/><circle cx="128.2" cy="996.6" r="2"/><circle cx="129.7" cy="994.2" r="2"/><circle cx="131.1" cy="998" r="2"/><circle cx="133.4" cy="993.9" r="2"/><circle cx="135.2" cy="991.1" r="2"/><circle cx="137.4" cy="995.2" r="2"/><circle cx="139" cy="988" r="2"/><circle cx="140.9" cy="987.4" r="2"/><circle cx="142.7" cy="995.2" r="2"/><circle cx="145" cy="996.7" r="2"/><circle cx="147" cy="994.6" r="2"/><circle cx="148.5" cy="991.9" r="2"/><circle cx="150.5" cy="991.9" r="2"/></g>
<path d="M157.6 1018.3Q155.6 1018.3 155.6 1016.3L155.6 993.2L156.8 993.2L159.3 992.3L162.7 994L166.1 992.3L169.5 993.2L172.8 993.2L175.4 994L178.8 993.2L183 994.9L185.5 993.2L188.1 991.5L190.6 993.2L193.1 989.8L195.7 990.7L198.2 992.3L200.7 991.5L203.3 988.1L205.8 986.4L208.4 994.9L216 994.9L217.7 993.2L220.2 986.4L221.9 993.2L222.9 996.6L222.9 996.6L222.9 1016.3Q222.9 1018.3 220.9 1018.3Z" fill="#afafaf" stroke="#afafaf" stroke-width="1.2" stroke-linejoin="round"/>
<g fill="#afafaf"><circle cx="157.2" cy="993.3" r="2"/><circle cx="159" cy="994.1" r="2"/><circle cx="161.3" cy="995.9" r="2"/><circle cx="163.2" cy="995" r="2"/><circle cx="164.7" cy="994.8" r="2"/><circle cx="166.3" cy="993" r="2"/><circle cx="167.7" cy="993" r="2"/><circle cx="169.8" cy="993.7" r="2"/><circle cx="172.2" cy="993.6" r="2"/><circle cx="174.4" cy="994.2" r="2"/><circle cx="175.9" cy="995.8" r="2"/><circle cx="177.5" cy="995.5" r="2"/><circle cx="179.1" cy="993.6" r="2"/><circle cx="181.3" cy="996.1" r="2"/><circle cx="183.5" cy="996.5" r="2"/><circle cx="185" cy="995.2" r="2"/><circle cx="187.1" cy="993.4" r="2"/><circle cx="189.5" cy="993.2" r="2"/><circle cx="191.8" cy="993.5" r="2"/><circle cx="193.2" cy="990.1" r="2"/><circle cx="195.3" cy="992.7" r="2"/><circle cx="196.8" cy="992.3" r="2"/><circle cx="198.9" cy="992.7" r="2"/><circle cx="201.1" cy="992.3" r="2"/><circle cx="202.6" cy="990.1" r="2"/><circle cx="204.6" cy="988.5" r="2"/><circle cx="206.7" cy="989.8" r="2"/><circle cx="208.9" cy="996" r="2"/><circle cx="210.9" cy="996.6" r="2"/><circle cx="212.7" cy="996" r="2"/><circle cx="214.9" cy="997.3" r="2"/><circle cx="217.1" cy="995.3" r="2"/><circle cx="218.8" cy="990.5" r="2"/><circle cx="221.2" cy="992.2" r="2"/></g>
<path d="M227.7 1018.3Q225.7 1018.3 225.7 1016.3L225.7 994.9L227 994.9L228.6 991.5L231.2 992.3L233.7 989L236.3 989.8L238.8 991.5L241.3 993.2L244.7 992.3L248.1 994L251.5 993.2L260.8 988.1L263.3 987.3L265.9 989.8L268.4 993.2L271.8 994.9L275.2 993.2L278.5 992.3L281.1 994.9L281.3 994.9L281.3 1016.3Q281.3 1018.3 279.3 1018.3Z" fill="#9d9d9d" stroke="#9d9d9d" stroke-width="1.2" stroke-linejoin="round"/>
<g fill="#9d9d9d"><circle cx="227.3" cy="995.2" r="2"/><circle cx="229.3" cy="994.3" r="2"/><circle cx="231.5" cy="993.5" r="2"/><circle cx="233.2" cy="990.8" r="2"/><circle cx="235.5" cy="990.7" r="2"/><circle cx="237.6" cy="992.4" r="2"/><circle cx="239.9" cy="994.4" r="2"/><circle cx="241.6" cy="993.3" r="2"/><circle cx="243.3" cy="993.9" r="2"/><circle cx="245.2" cy="994.8" r="2"/><circle cx="247.5" cy="994.1" r="2"/><circle cx="249.8" cy="995.8" r="2"/><circle cx="252" cy="994.5" r="2"/><circle cx="253.7" cy="994.2" r="2"/><circle cx="255.9" cy="992.6" r="2"/><circle cx="258.2" cy="990.5" r="2"/><circle cx="259.7" cy="990.2" r="2"/><circle cx="261.9" cy="988.4" r="2"/><circle cx="264.1" cy="990.4" r="2"/><circle cx="265.7" cy="991.3" r="2"/><circle cx="267.8" cy="993.7" r="2"/><circle cx="269.4" cy="994.5" r="2"/><circle cx="271.5" cy="996.9" r="2"/><circle cx="273.4" cy="994.5" r="2"/><circle cx="275.6" cy="995.1" r="2"/><circle cx="277.2" cy="994.3" r="2"/><circle cx="279.5" cy="995.7" r="2"/></g>
<path d="M286.1 1018.3Q284.1 1018.3 284.1 1016.3L284.1 996.6L284.1 996.6L284.8 994.9L287.3 991.5L289.9 990.7L293.2 991.5L296.6 993.2L300 993.2L303.4 992.3L305.9 993.2L309.3 994.9L311.8 991.5L314.4 991.5L316.9 995.7L320.3 993.2L323.7 996.6L326.2 993.2L329.6 994.9L333.8 994.9L336.4 996.6L336.7 999.1L336.7 999.1L336.7 1016.3Q336.7 1018.3 334.7 1018.3Z" fill="#afafaf" stroke="#afafaf" stroke-width="1.2" stroke-linejoin="round"/>
<g fill="#afafaf"><circle cx="285.7" cy="995" r="2"/><circle cx="287.7" cy="992" r="2"/><circle cx="289.3" cy="991.5" r="2"/><circle cx="291.4" cy="992.1" r="2"/><circle cx="293.3" cy="992.7" r="2"/><circle cx="295.3" cy="993.1" r="2"/><circle cx="296.7" cy="995.8" r="2"/><circle cx="298.5" cy="993.6" r="2"/><circle cx="300.5" cy="995.1" r="2"/><circle cx="302.1" cy="994.3" r="2"/><circle cx="303.8" cy="993.9" r="2"/><circle cx="305.2" cy="993.2" r="2"/><circle cx="307.6" cy="996.3" r="2"/><circle cx="309.5" cy="996.2" r="2"/><circle cx="311.2" cy="994.5" r="2"/><circle cx="313" cy="994" r="2"/><circle cx="315.2" cy="995" r="2"/><circle cx="317.5" cy="996.1" r="2"/><circle cx="319" cy="994.9" r="2"/><circle cx="320.6" cy="993.8" r="2"/><circle cx="322" cy="996.4" r="2"/><circle cx="324.3" cy="997.1" r="2"/><circle cx="326.6" cy="995.8" r="2"/><circle cx="328.1" cy="995.8" r="2"/><circle cx="329.9" cy="995.4" r="2"/><circle cx="332.2" cy="995.7" r="2"/><circle cx="334.2" cy="996.9" r="2"/></g>
<path d="M342.1 1018.3Q340.1 1018.3 340.1 1016.3L340.1 998.3L340.6 998.3L343.1 995.7L345.7 994.9L349 993.2L350.7 989.8L352.4 993.2L355.8 992.3L358.4 994L360.9 994.9L363.4 992.3L366 995.7L369.3 996.6L372.7 994L375.3 993.2L377.8 994L380.3 991.5L382.9 989.8L385.4 991.5L387.9 989.8L390.2 993.2L390.2 993.2L390.2 1016.3Q390.2 1018.3 388.2 1018.3Z" fill="#9d9d9d" stroke="#9d9d9d" stroke-width="1.2" stroke-linejoin="round"/>
<g fill="#9d9d9d"><circle cx="341.7" cy="999" r="2"/><circle cx="343.5" cy="996.9" r="2"/><circle cx="345.1" cy="997.6" r="2"/><circle cx="347.4" cy="994.7" r="2"/><circle cx="348.9" cy="994.1" r="2"/><circle cx="350.6" cy="992.4" r="2"/><circle cx="352.9" cy="995.3" r="2"/><circle cx="354.4" cy="994.8" r="2"/><circle cx="356.5" cy="994.5" r="2"/><circle cx="358.9" cy="994.5" r="2"/><circle cx="360.4" cy="996.7" r="2"/><circle cx="362.8" cy="994.8" r="2"/><circle cx="364.5" cy="995.3" r="2"/><circle cx="366.6" cy="996.3" r="2"/><circle cx="368.3" cy="997.1" r="2"/><circle cx="369.9" cy="997.5" r="2"/><circle cx="371.4" cy="995.8" r="2"/><circle cx="373" cy="995.8" r="2"/><circle cx="374.4" cy="995.4" r="2"/><circle cx="376" cy="993.7" r="2"/><circle cx="378.3" cy="994.2" r="2"/><circle cx="380.7" cy="993.6" r="2"/><circle cx="382.9" cy="990.4" r="2"/><circle cx="384.8" cy="991.5" r="2"/><circle cx="387.1" cy="992.6" r="2"/></g>
<path d="M395.5 1018.3Q393.5 1018.3 393.5 1016.3L393.5 994L393.9 994L395.6 988.1L398.1 989.8L401.5 989.8L408.2 996.6L411.6 994.9L414.2 991.5L416.7 992.3L419.2 988.1L421.8 991.5L425.2 993.2L428.5 991.5L431.9 988.1L434.5 991.5L437 994.9L440.4 996.6L440.9 996.6L440.9 1016.3Q440.9 1018.3 438.9 1018.3Z" fill="#afafaf" stroke="#afafaf" stroke-width="1.2" stroke-linejoin="round"/>
<g fill="#afafaf"><circle cx="395.1" cy="991" r="2"/><circle cx="396.8" cy="991.1" r="2"/><circle cx="398.7" cy="991.5" r="2"/><circle cx="400.3" cy="990.5" r="2"/><circle cx="401.7" cy="992" r="2"/><circle cx="403.7" cy="992.5" r="2"/><circle cx="405.9" cy="995.1" r="2"/><circle cx="407.8" cy="996.7" r="2"/><circle cx="409.4" cy="998.2" r="2"/><circle cx="411.2" cy="995.7" r="2"/><circle cx="413" cy="993.9" r="2"/><circle cx="415.4" cy="992.4" r="2"/><circle cx="417.7" cy="991" r="2"/><circle cx="420" cy="991" r="2"/><circle cx="421.6" cy="992.7" r="2"/><circle cx="423.3" cy="993.1" r="2"/><circle cx="424.9" cy="994.1" r="2"/><circle cx="427.3" cy="994.7" r="2"/><circle cx="429.6" cy="990.8" r="2"/><circle cx="431.3" cy="991.1" r="2"/><circle cx="432.8" cy="991.2" r="2"/><circle cx="434.5" cy="994.1" r="2"/><circle cx="435.9" cy="995.5" r="2"/><circle cx="437.6" cy="995.7" r="2"/><circle cx="439" cy="998.1" r="2"/></g>
<path d="M446.3 1018.3Q444.3 1018.3 444.3 1016.3L444.3 998.3L444.7 998.3L446.4 994L449.3 994.9L451.8 991.5L454.4 989.8L456.9 984.7L458.6 991.5L461.1 996.6L463.7 988.1L466.2 988.1L467.9 993.2L473.8 994.9L476.4 993.2L478.9 992.3L481.4 991.5L484 993.2L486.5 991.5L488.3 994L488.3 994L488.3 1016.3Q488.3 1018.3 486.3 1018.3Z" fill="#9d9d9d" stroke="#9d9d9d" stroke-width="1.2" stroke-linejoin="round"/>
<g fill="#9d9d9d"><circle cx="445.9" cy="996" r="2"/><circle cx="447.7" cy="996.8" r="2"/><circle cx="449.4" cy="996.4" r="2"/><circle cx="450.9" cy="993.4" r="2"/><circle cx="453.1" cy="992.6" r="2"/><circle cx="454.7" cy="989.6" r="2"/><circle cx="456.1" cy="987.9" r="2"/><circle cx="458" cy="990.1" r="2"/><circle cx="459.6" cy="995.3" r="2"/><circle cx="461.8" cy="996.7" r="2"/><circle cx="463.7" cy="988.8" r="2"/><circle cx="465.2" cy="990.1" r="2"/><circle cx="467" cy="992.4" r="2"/><circle cx="468.5" cy="995.5" r="2"/><circle cx="470.2" cy="996.1" r="2"/><circle cx="472.5" cy="995.9" r="2"/><circle cx="473.9" cy="997.2" r="2"/><circle cx="475.8" cy="995.9" r="2"/><circle cx="477.4" cy="993.5" r="2"/><circle cx="479.7" cy="993.2" r="2"/><circle cx="481.2" cy="992.7" r="2"/><circle cx="483.2" cy="992.9" r="2"/><circle cx="485.1" cy="993.7" r="2"/></g>
<path d="M493.6 1018.3Q491.6 1018.3 491.6 1016.3L491.6 993.2L492.4 993.2L494.1 987.3L496.7 988.1L499.2 989.8L501.7 986.4L503.4 985.6L505.1 991.5L507.7 995.7L509.3 991.5L511.9 992.3L514.4 994.9L517.8 993.2L520.3 994.9L522.9 992.3L525.4 990.7L527.9 993.2L530.5 993.2L532.2 995.7L532.2 995.7L532.2 1016.3Q532.2 1018.3 530.2 1018.3Z" fill="#afafaf" stroke="#afafaf" stroke-width="1.2" stroke-linejoin="round"/>
<g fill="#afafaf"><circle cx="493.2" cy="991" r="2"/><circle cx="495.3" cy="989.8" r="2"/><circle cx="497.6" cy="989.7" r="2"/><circle cx="499.7" cy="990.3" r="2"/><circle cx="501.8" cy="986.7" r="2"/><circle cx="504.1" cy="990.5" r="2"/><circle cx="506" cy="994.4" r="2"/><circle cx="507.9" cy="996.5" r="2"/><circle cx="509.4" cy="994" r="2"/><circle cx="511" cy="992.7" r="2"/><circle cx="512.5" cy="993.7" r="2"/><circle cx="514.7" cy="995" r="2"/><circle cx="516.2" cy="995.9" r="2"/><circle cx="517.8" cy="993.4" r="2"/><circle cx="519.8" cy="996.1" r="2"/><circle cx="521.7" cy="995.4" r="2"/><circle cx="523.2" cy="994.4" r="2"/><circle cx="525.3" cy="991" r="2"/><circle cx="526.9" cy="993.5" r="2"/><circle cx="528.8" cy="994.1" r="2"/><circle cx="530.3" cy="994.4" r="2"/></g>
<path d="M537.6 1018.3Q535.6 1018.3 535.6 1016.3L535.6 996.6L536.4 996.6L538.1 993.2L540.6 992.3L542.3 996.6L544.9 991.5L547.4 992.3L549.1 996.6L549.8 998.3L549.8 998.3L549.8 1016.3Q549.8 1018.3 547.8 1018.3Z" fill="#9d9d9d" stroke="#9d9d9d" stroke-width="1.2" stroke-linejoin="round"/>
<path d="M556.2 1018.3Q554.2 1018.3 554.2 1016.3L554.2 998.3L555 998.3L556.7 994L559.2 993.2L561.8 994.9L564.3 990.7L566.8 989.8L569.4 993.2L571.9 993.2L574.5 994.9L575.2 998.3L575.2 998.3L575.2 1016.3Q575.2 1018.3 573.2 1018.3Z" fill="#9d9d9d" stroke="#9d9d9d" stroke-width="1.2" stroke-linejoin="round"/>
<g fill="#9d9d9d"><circle cx="537.2" cy="996.6" r="2"/><circle cx="539.5" cy="993.3" r="2"/><circle cx="541.4" cy="996.3" r="2"/><circle cx="543" cy="997.4" r="2"/><circle cx="545.3" cy="992.8" r="2"/><circle cx="547.2" cy="994.5" r="2"/><circle cx="555.8" cy="997.4" r="2"/><circle cx="558.1" cy="995.6" r="2"/><circle cx="559.9" cy="994.4" r="2"/><circle cx="561.6" cy="996" r="2"/><circle cx="564" cy="993.3" r="2"/><circle cx="566.3" cy="992.1" r="2"/><circle cx="568.6" cy="992.4" r="2"/><circle cx="570.5" cy="995.7" r="2"/><circle cx="572.8" cy="994.6" r="2"/></g>
<path d="M580.5 1018.3Q578.5 1018.3 578.5 1016.3L578.5 995.7L578.5 995.7L580 994.9L583.4 992.3L586.8 994L590.1 993.2L592.7 991.5L595.2 993.2L598.6 994L602 993.2L605.4 994.9L608.8 993.2L611.3 992.3L613.8 994L615.5 991.5L616.4 996.6L616.4 996.6L616.4 1016.3Q616.4 1018.3 614.4 1018.3Z" fill="#afafaf" stroke="#afafaf" stroke-width="1.2" stroke-linejoin="round"/>
<g fill="#afafaf"><circle cx="580.1" cy="996.5" r="2"/><circle cx="581.9" cy="995" r="2"/><circle cx="583.3" cy="993.6" r="2"/><circle cx="585.2" cy="993.5" r="2"/><circle cx="586.8" cy="996.6" r="2"/><circle cx="589" cy="995.9" r="2"/><circle cx="591" cy="994.8" r="2"/><circle cx="593.3" cy="994.2" r="2"/><circle cx="594.7" cy="994.6" r="2"/><circle cx="596.4" cy="995.3" r="2"/><circle cx="598" cy="995.4" r="2"/><circle cx="600.4" cy="995.3" r="2"/><circle cx="602" cy="994.7" r="2"/><circle cx="603.9" cy="996.6" r="2"/><circle cx="605.5" cy="995.7" r="2"/><circle cx="607.6" cy="994.3" r="2"/><circle cx="609.6" cy="995.4" r="2"/><circle cx="611.5" cy="993.3" r="2"/><circle cx="613.4" cy="995.2" r="2"/></g>
<path d="M621.8 1018.3Q619.8 1018.3 619.8 1016.3L619.8 994.9L620.6 994.9L623.1 992.3L624.8 986.4L627.4 993.2L629.9 991.5L632.4 988.1L635 987.3L636.7 989.8L639.2 994L641.7 993.2L644.3 992.3L646.8 991.5L649.3 989.8L651.9 992.3L654.4 990.7L657 993.2L657.7 994.9L657.7 994.9L657.7 1016.3Q657.7 1018.3 655.7 1018.3Z" fill="#9d9d9d" stroke="#9d9d9d" stroke-width="1.2" stroke-linejoin="round"/>
<g fill="#9d9d9d"><circle cx="621.4" cy="994.6" r="2"/><circle cx="622.9" cy="993.4" r="2"/><circle cx="624.7" cy="987.6" r="2"/><circle cx="626.4" cy="991" r="2"/><circle cx="628.3" cy="994.8" r="2"/><circle cx="630.3" cy="992.5" r="2"/><circle cx="632.4" cy="988.9" r="2"/><circle cx="634.5" cy="988.7" r="2"/><circle cx="636.4" cy="991.2" r="2"/><circle cx="638.3" cy="993.5" r="2"/><circle cx="640" cy="994.5" r="2"/><circle cx="641.9" cy="994.3" r="2"/><circle cx="643.9" cy="992.7" r="2"/><circle cx="645.6" cy="994.2" r="2"/><circle cx="647.2" cy="992.7" r="2"/><circle cx="649.1" cy="990.8" r="2"/><circle cx="651.5" cy="992.9" r="2"/><circle cx="653.7" cy="991.7" r="2"/><circle cx="655.2" cy="993.7" r="2"/></g>
<path d="M663.1 1018.3Q661.1 1018.3 661.1 1016.3L661.1 996.6L661.2 996.6L662.9 993.2L665.4 992.3L676.4 994.9L678.9 993.2L681.5 990.7L684 991.5L686.6 989L689.1 989.8L691.6 991.5L694.2 990.7L696.7 994L697.5 995.7L697.5 995.7L697.5 1016.3Q697.5 1018.3 695.5 1018.3Z" fill="#afafaf" stroke="#afafaf" stroke-width="1.2" stroke-linejoin="round"/>
<g fill="#afafaf"><circle cx="662.7" cy="993.9" r="2"/><circle cx="664.5" cy="993.9" r="2"/><circle cx="666.6" cy="993.1" r="2"/><circle cx="668.2" cy="995.5" r="2"/><circle cx="670.4" cy="994.1" r="2"/><circle cx="672.1" cy="994.9" r="2"/><circle cx="674.2" cy="996" r="2"/><circle cx="676.4" cy="997" r="2"/><circle cx="678.4" cy="995.5" r="2"/><circle cx="680.5" cy="993.6" r="2"/><circle cx="682.4" cy="993" r="2"/><circle cx="684.5" cy="993.4" r="2"/><circle cx="686" cy="991.8" r="2"/><circle cx="687.4" cy="991.3" r="2"/><circle cx="689.4" cy="991.4" r="2"/><circle cx="691.8" cy="993" r="2"/><circle cx="693.6" cy="992.9" r="2"/><circle cx="695.9" cy="994.6" r="2"/></g>
<path d="M702.9 1018.3Q700.9 1018.3 700.9 1016.3L700.9 996.6L701.8 996.6L704.3 993.2L706.8 991.5L709.4 992.3L711.9 992.3L713.6 986.4L715.3 984.7L717.3 991.5L719.5 984.7L721.2 983.9L722.5 987.3L722.9 989.8L725.1 989.8L725.5 990.7L727.6 993.2L728 993.2L728.5 996.6L728.5 996.6L728.5 996.6L728.5 1016.3Q728.5 1018.3 726.5 1018.3Z" fill="#9d9d9d" stroke="#9d9d9d" stroke-width="1.2" stroke-linejoin="round"/>
<g fill="#9d9d9d"><circle cx="702.5" cy="996.9" r="2"/><circle cx="704.4" cy="995.1" r="2"/><circle cx="706.1" cy="993.2" r="2"/><circle cx="708" cy="993" r="2"/><circle cx="709.7" cy="994.4" r="2"/><circle cx="712" cy="993.6" r="2"/><circle cx="713.8" cy="986.9" r="2"/><circle cx="715.5" cy="986" r="2"/><circle cx="717.5" cy="992.6" r="2"/><circle cx="719" cy="988.8" r="2"/><circle cx="720.7" cy="986.4" r="2"/><circle cx="723" cy="992.3" r="2"/><circle cx="724.6" cy="991" r="2"/><circle cx="726.9" cy="992.5" r="2"/></g>
<path d="M733.9 1018.3Q731.9 1018.3 731.9 1016.3L731.9 996.6L732.7 996.6L734.4 994.9L736.9 995.7L739.5 996.6L742 994.9L744.5 992.3L747.1 993.2L749.6 994.9L752.1 991.5L754.7 992.3L756.4 996.6L757 998.3L757 998.3L757 1016.3Q757 1018.3 755 1018.3Z" fill="#afafaf" stroke="#afafaf" stroke-width="1.2" stroke-linejoin="round"/>
<g fill="#afafaf"><circle cx="733.5" cy="997.3" r="2"/><circle cx="735.4" cy="997.6" r="2"/><circle cx="737.6" cy="997.4" r="2"/><circle cx="740" cy="997.7" r="2"/><circle cx="741.9" cy="996.8" r="2"/><circle cx="743.7" cy="994.2" r="2"/><circle cx="745.7" cy="993.8" r="2"/><circle cx="748" cy="995.6" r="2"/><circle cx="749.9" cy="994.9" r="2"/><circle cx="751.7" cy="993.2" r="2"/><circle cx="753.7" cy="993.6" r="2"/></g>
<path d="M762.1 1018.3Q760.1 1018.3 760.1 1016.3L760.1 998.3L761.4 998.3L764 994.9L766.5 991.5L769 990.7L771.6 988.1L774.1 986.4L776.7 988.1L779.2 991.5L781.7 993.2L783.4 993.2L784.8 996.6L784.8 996.6L784.8 1016.3Q784.8 1018.3 782.8 1018.3Z" fill="#9d9d9d" stroke="#9d9d9d" stroke-width="1.2" stroke-linejoin="round"/>
<g fill="#9d9d9d"><circle cx="761.7" cy="1000.4" r="2"/><circle cx="763.6" cy="996.7" r="2"/><circle cx="765.6" cy="995.3" r="2"/><circle cx="767.4" cy="992.7" r="2"/><circle cx="769.6" cy="990.7" r="2"/><circle cx="771.3" cy="991" r="2"/><circle cx="773.5" cy="988.3" r="2"/><circle cx="775" cy="989.4" r="2"/><circle cx="777.1" cy="990.9" r="2"/><circle cx="779.5" cy="994" r="2"/><circle cx="781.3" cy="993.5" r="2"/><circle cx="783" cy="994.6" r="2"/></g>
<path d="M789.3 1018.3Q787.3 1018.3 787.3 1016.3L787.3 996.6L788.5 996.6L791 993.2L793.6 986.4L795.3 988.1L797.8 994.9L801.2 994.9L803.7 990.7L806.3 989L808.8 988.1L811.3 991.5L813 994.9L813.5 996.6L813.5 996.6L813.5 1016.3Q813.5 1018.3 811.5 1018.3Z" fill="#afafaf" stroke="#afafaf" stroke-width="1.2" stroke-linejoin="round"/>
<g fill="#afafaf"><circle cx="788.9" cy="996.7" r="2"/><circle cx="790.5" cy="995.6" r="2"/><circle cx="792.5" cy="990.4" r="2"/><circle cx="794.9" cy="989.5" r="2"/><circle cx="796.3" cy="992.1" r="2"/><circle cx="798.5" cy="995.8" r="2"/><circle cx="800.6" cy="995.1" r="2"/><circle cx="802.3" cy="995.2" r="2"/><circle cx="804.3" cy="992.1" r="2"/><circle cx="805.9" cy="990.6" r="2"/><circle cx="807.8" cy="989.3" r="2"/><circle cx="809.9" cy="991" r="2"/></g>
<path d="M818.3 1018.3Q816.3 1018.3 816.3 1016.3L816.3 994.9L817.3 994.9L819.8 989.8L822.3 993.2L824.9 991.5L827.4 988.1L829.1 991.5L831.6 994.9L835 991.5L838.4 994.9L839.2 996.6L839.2 996.6L839.2 1016.3Q839.2 1018.3 837.2 1018.3Z" fill="#9d9d9d" stroke="#9d9d9d" stroke-width="1.2" stroke-linejoin="round"/>
<g fill="#9d9d9d"><circle cx="817.9" cy="995.2" r="2"/><circle cx="819.7" cy="990.5" r="2"/><circle cx="821.3" cy="993.8" r="2"/><circle cx="822.8" cy="993.3" r="2"/><circle cx="824.3" cy="993.3" r="2"/><circle cx="826.6" cy="990.9" r="2"/><circle cx="828.8" cy="991.2" r="2"/><circle cx="830.2" cy="995" r="2"/><circle cx="831.9" cy="996.5" r="2"/><circle cx="833.7" cy="993.4" r="2"/><circle cx="835.3" cy="992.3" r="2"/><circle cx="837.6" cy="995.7" r="2"/></g>
<path d="M844.4 1018.3Q842.4 1018.3 842.4 1016.3L842.4 998.3L843.5 998.3L846 990.7L848.5 991.5L851.9 989.8L855.3 993.2L857.8 992.3L860.4 993.2L863.8 994.9L865.4 996.6L865.4 996.6L865.4 1016.3Q865.4 1018.3 863.4 1018.3Z" fill="#afafaf" stroke="#afafaf" stroke-width="1.2" stroke-linejoin="round"/>
<g fill="#afafaf"><circle cx="844" cy="997.9" r="2"/><circle cx="845.8" cy="991.6" r="2"/><circle cx="848.1" cy="992.9" r="2"/><circle cx="850.4" cy="991.8" r="2"/><circle cx="852.5" cy="991.1" r="2"/><circle cx="853.9" cy="994.2" r="2"/><circle cx="856.2" cy="993.9" r="2"/><circle cx="858.5" cy="994.7" r="2"/><circle cx="860.2" cy="994.8" r="2"/><circle cx="862.5" cy="995.6" r="2"/></g>
<path d="M870.5 1018.3Q868.5 1018.3 868.5 1016.3L868.5 998.5L868.5 998.5L874.5 998.5L876.4 1000.3L878.2 996.7L880.5 995.7L882.3 984.8L884.5 984.8L885.5 995.7L887.1 998.5L887.1 998.5L887.1 1016.3Q887.1 1018.3 885.1 1018.3Z" fill="#9d9d9d" stroke="#9d9d9d" stroke-width="1.2" stroke-linejoin="round"/>
<g fill="#9d9d9d"><circle cx="870.1" cy="999.3" r="2"/><circle cx="871.9" cy="1000.4" r="2"/><circle cx="873.5" cy="999.4" r="2"/><circle cx="875.8" cy="1001.1" r="2"/><circle cx="878" cy="997.8" r="2"/><circle cx="879.6" cy="997.2" r="2"/><circle cx="881.1" cy="994.2" r="2"/><circle cx="882.8" cy="986.4" r="2"/><circle cx="884.3" cy="986.3" r="2"/></g>
<path d="M892.3 1018.3Q890.3 1018.3 890.3 1016.3L890.3 996.7L890.9 996.7L892.7 994.8L894.5 993.9L896.4 993.5L898.2 993L900 990.7L902.7 990.7L903.6 983L905.5 983L905.9 990.7L907.3 992.1L908.9 994.8L908.9 994.8L908.9 1016.3Q908.9 1018.3 906.9 1018.3Z" fill="#afafaf" stroke="#afafaf" stroke-width="1.2" stroke-linejoin="round"/>
<g fill="#afafaf"><circle cx="891.9" cy="996.8" r="2"/><circle cx="893.4" cy="995" r="2"/><circle cx="895.6" cy="994.7" r="2"/><circle cx="897.2" cy="993.9" r="2"/><circle cx="898.9" cy="992.9" r="2"/><circle cx="900.4" cy="992.5" r="2"/><circle cx="902.1" cy="991.3" r="2"/><circle cx="904.2" cy="983.4" r="2"/><circle cx="905.9" cy="992.3" r="2"/><circle cx="907.4" cy="993.6" r="2"/></g>
<path d="M914.1 1018.3Q912.1 1018.3 912.1 1016.3L912.1 994.8L913.6 994.8L914.5 992.1L916.4 991.7L918.6 992.1L920.5 993.5L922.7 994.8L924.1 997.6L924.2 1000.3L924.2 1000.3L924.2 1016.3Q924.2 1018.3 922.2 1018.3Z" fill="#9d9d9d" stroke="#9d9d9d" stroke-width="1.2" stroke-linejoin="round"/>
<g fill="#9d9d9d"><circle cx="913.7" cy="996.8" r="2"/><circle cx="915.3" cy="993" r="2"/><circle cx="917.4" cy="993" r="2"/><circle cx="919.7" cy="993.6" r="2"/><circle cx="922.1" cy="995.9" r="2"/></g>
<path d="M929.3 1018.3Q927.3 1018.3 927.3 1016.3L927.3 998.5L927.7 998.5L929.1 992.1L930.5 990.3L931.8 990.7L933.6 991.2L935.5 994.4L937.3 994.8L938.8 997.6L938.8 997.6L938.8 1016.3Q938.8 1018.3 936.8 1018.3Z" fill="#afafaf" stroke="#afafaf" stroke-width="1.2" stroke-linejoin="round"/>
<g fill="#afafaf"><circle cx="928.9" cy="994.3" r="2"/><circle cx="930.4" cy="992.2" r="2"/><circle cx="932.1" cy="993.2" r="2"/><circle cx="934.1" cy="993.1" r="2"/><circle cx="935.7" cy="996.1" r="2"/></g>
<circle cx="185.5" cy="980.5" r="2.1" fill="#afafaf"/>
<circle cx="185.5" cy="987.8" r="2.1" fill="#afafaf"/>
<circle cx="268.4" cy="981.5" r="2.1" fill="#9d9d9d"/>
<circle cx="305.1" cy="987.3" r="2.1" fill="#afafaf"/>
<circle cx="350.7" cy="988.3" r="2.1" fill="#9d9d9d"/>
<circle cx="355.8" cy="990.6" r="2.1" fill="#9d9d9d"/>
<circle cx="389.6" cy="988.3" r="2.1" fill="#9d9d9d"/>
<circle cx="395.6" cy="984.4" r="2.1" fill="#afafaf"/>
<circle cx="400.1" cy="982.2" r="2.1" fill="#afafaf"/>
<circle cx="541.1" cy="987.8" r="2.1" fill="#9d9d9d"/>
<circle cx="592.7" cy="986.1" r="2.1" fill="#afafaf"/>
<circle cx="604.5" cy="983.5" r="2.1" fill="#afafaf"/>
<circle cx="696.4" cy="987.8" r="2.1" fill="#afafaf"/>
<circle cx="713.6" cy="980.1" r="2.1" fill="#9d9d9d"/>
<circle cx="736.4" cy="988.9" r="2.1" fill="#afafaf"/>
<circle cx="775.8" cy="981.8" r="2.1" fill="#9d9d9d"/>
<circle cx="826.6" cy="984.4" r="2.1" fill="#9d9d9d"/>
<circle cx="917.3" cy="985.5" r="2.1" fill="#9d9d9d"/>
<circle cx="938" cy="987.3" r="2.1" fill="#afafaf"/>
<circle cx="209.7" cy="975.7" r="2.1" fill="#e80000"/>
<circle cx="214" cy="977.3" r="2.1" fill="#e80000"/>
<circle cx="256.7" cy="974.1" r="2.1" fill="#e80000"/>
<circle cx="256.7" cy="976.5" r="2.1" fill="#e80000"/>
<circle cx="256.7" cy="978.9" r="2.1" fill="#e80000"/>
<circle cx="405.1" cy="940.6" r="2.1" fill="#0000dc"/>
<circle cx="405.1" cy="948.5" r="2.1" fill="#0000dc"/>
<circle cx="405.1" cy="959.8" r="2.1" fill="#0000dc"/>
<circle cx="470.9" cy="980.2" r="2.1" fill="#0000dc"/>
<circle cx="669.3" cy="871.2" r="2.1" fill="#0000dc"/>
<circle cx="669.3" cy="874.1" r="2.1" fill="#0000dc"/>
<circle cx="669.3" cy="882.3" r="2.1" fill="#0000dc"/>
<circle cx="669.3" cy="884.6" r="2.1" fill="#0000dc"/>
<circle cx="669.3" cy="895.4" r="2.1" fill="#0000dc"/>
<circle cx="669.3" cy="903.9" r="2.1" fill="#0000dc"/>
<circle cx="871.5" cy="773" r="2.1" fill="#0000dc"/>
<circle cx="871.5" cy="775.1" r="2.1" fill="#0000dc"/>
<circle cx="871.5" cy="789.7" r="2.1" fill="#0000dc"/>
<circle cx="871.5" cy="799.3" r="2.1" fill="#0000dc"/>
<circle cx="871.5" cy="812.1" r="2.1" fill="#0000dc"/>
<circle cx="871.5" cy="815.6" r="2.1" fill="#0000dc"/>
<circle cx="871.5" cy="822.8" r="2.1" fill="#0000dc"/>
<circle cx="871.5" cy="825.7" r="2.1" fill="#0000dc"/>
<circle cx="871.5" cy="836.7" r="2.1" fill="#0000dc"/>
<circle cx="871.5" cy="841.4" r="2.1" fill="#0000dc"/>
<circle cx="871.5" cy="913.7" r="2.1" fill="#0000dc"/>
<circle cx="871.5" cy="940" r="2.1" fill="#0000dc"/>
<path d="M210 1000.8V1017.1" stroke="#e80000" stroke-width="4.2" stroke-linecap="round"/>
<path d="M211.8 1000.8V1017.1" stroke="#e80000" stroke-width="4.2" stroke-linecap="round"/>
<path d="M214.2 984.1V1017.1" stroke="#e80000" stroke-width="4.2" stroke-linecap="round"/>
<path d="M256.7 985.7V1017.1" stroke="#e80000" stroke-width="4.2" stroke-linecap="round"/>
<path d="M405.1 973.3V1017.1" stroke="#0000dc" stroke-width="4.2" stroke-linecap="round"/>
<path d="M470.9 965.4V973.4" stroke="#0000dc" stroke-width="4.2" stroke-linecap="round"/>
<path d="M470.9 987.6V1017.1" stroke="#0000dc" stroke-width="4.2" stroke-linecap="round"/>
<path d="M671.3 941.7V1017.1" stroke="#0000dc" stroke-width="4.2" stroke-linecap="round"/>
<path d="M669.2 951.4V1017.1" stroke="#0000dc" stroke-width="4.2" stroke-linecap="round"/>
<path d="M671.8 951.4V1017.1" stroke="#0000dc" stroke-width="4.2" stroke-linecap="round"/>
<path d="M871.4 988.9V1017.1" stroke="#0000dc" stroke-width="4.2" stroke-linecap="round"/>
<text transform="translate(128 1027.3) rotate(-90)" font-size="21.2" text-anchor="end">1</text>
<text transform="translate(196 1027.3) rotate(-90)" font-size="21.2" text-anchor="end">2</text>
<text transform="translate(263.1 1027.3) rotate(-90)" font-size="21.2" text-anchor="end">3</text>
<text transform="translate(319.4 1027.3) rotate(-90)" font-size="21.2" text-anchor="end">4</text>
<text transform="translate(374.5 1027.3) rotate(-90)" font-size="21.2" text-anchor="end">5</text>
<text transform="translate(425.4 1027.3) rotate(-90)" font-size="21.2" text-anchor="end">6</text>
<text transform="translate(474.6 1027.3) rotate(-90)" font-size="21.2" text-anchor="end">7</text>
<text transform="translate(521.5 1027.3) rotate(-90)" font-size="21.2" text-anchor="end">8</text>
<text transform="translate(564.2 1027.3) rotate(-90)" font-size="21.2" text-anchor="end">9</text>
<text transform="translate(607.8 1027.3) rotate(-90)" font-size="21.2" text-anchor="end">10</text>
<text transform="translate(646 1027.3) rotate(-90)" font-size="21.2" text-anchor="end">11</text>
<text transform="translate(687.9 1027.3) rotate(-90)" font-size="21.2" text-anchor="end">12</text>
<text transform="translate(719.5 1027.3) rotate(-90)" font-size="21.2" text-anchor="end">13</text>
<text transform="translate(749.8 1027.3) rotate(-90)" font-size="21.2" text-anchor="end">14</text>
<text transform="translate(778.3 1027.3) rotate(-90)" font-size="21.2" text-anchor="end">15</text>
<text transform="translate(807.3 1027.3) rotate(-90)" font-size="21.2" text-anchor="end">16</text>
<text transform="translate(834.9 1027.3) rotate(-90)" font-size="21.2" text-anchor="end">17</text>
<text transform="translate(859.5 1027.3) rotate(-90)" font-size="21.2" text-anchor="end">18</text>
<text transform="translate(883.5 1027.3) rotate(-90)" font-size="21.2" text-anchor="end">19</text>
<text transform="translate(906 1027.3) rotate(-90)" font-size="21.2" text-anchor="end">20</text>
<text transform="translate(923 1027.3) rotate(-90)" font-size="21.2" text-anchor="end">21</text>
<text transform="translate(940.2 1027.3) rotate(-90)" font-size="21.2" text-anchor="end">22</text>
<text x="510.5" y="1070.3" font-size="21.2" text-anchor="middle">Chromosome</text>
<text x="828.9" y="765.2" font-size="18.4" font-style="italic">NDUFA11</text>
<text x="625.7" y="860.7" font-size="18.4" font-style="italic">LINC00477</text>
<text x="671.4" y="928" font-size="18.4" font-style="italic">SYT10</text>
<text x="382.1" y="928.6" font-size="18.4" font-style="italic">PPIL1</text>
<text x="443" y="952.9" font-size="18.4" font-style="italic">GNG11</text>
</svg>
</body></html>
